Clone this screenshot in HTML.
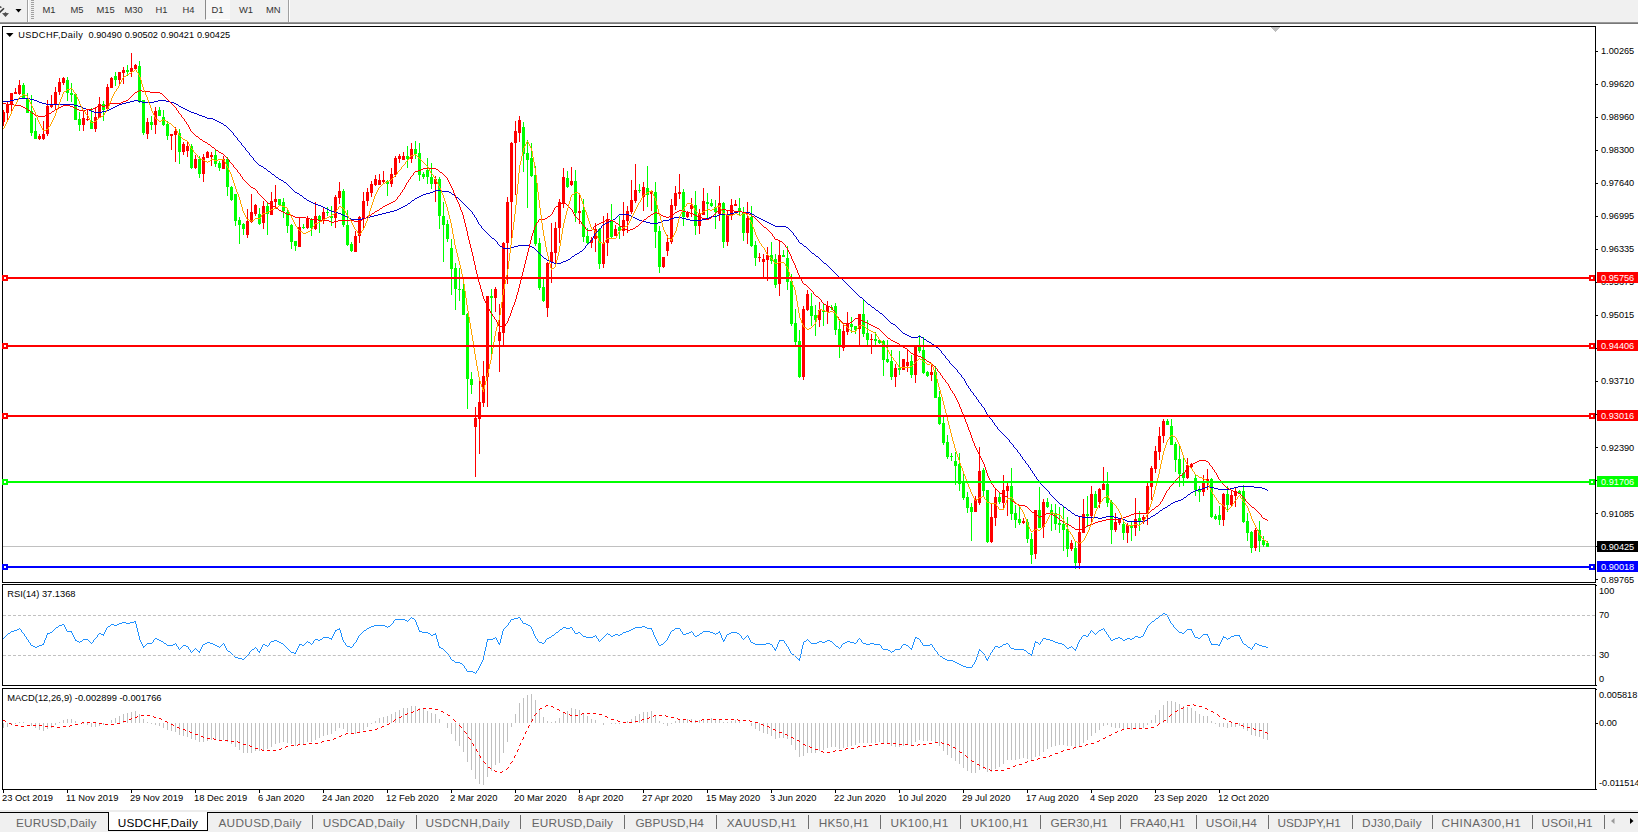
<!DOCTYPE html>
<html><head><meta charset="utf-8"><title>USDCHF,Daily</title>
<style>
*{margin:0;padding:0;box-sizing:border-box}
html,body{width:1638px;height:832px;overflow:hidden;background:#fff}
body{position:relative;font-family:"Liberation Sans",sans-serif;font-size:9px;color:#000}
i{position:absolute;display:block;font-style:normal}
span{position:absolute;white-space:nowrap;line-height:12px}
#tbar{position:absolute;left:0;top:0;width:1638px;height:22px;background:#f0f0f0}
#tline{position:absolute;left:0;top:22px;width:1638px;height:2px;background:linear-gradient(#a8a8a8,#686868)}
.tf{top:4.4px;color:#333;font-size:9.4px}
.box{position:absolute;border:1px solid #000}
.tb{top:814px;font-size:11.4px;line-height:14px}
.sp{top:815px;width:1px;height:14px;background:#6e6e6e}
.tk{top:790px;width:1px;height:3px;background:#000}
.dt{top:792.4px;font-size:9.4px}
.pt{left:1596px;width:2px;height:1px;background:#000}
.pl{left:1601px;font-size:9.2px}
.hl{left:3px;width:1592px;height:2px}
.sq{width:6px;height:6px;border:2px solid;background:#fff}
.pb{left:1597px;width:41px;height:11px;overflow:hidden;line-height:12px;color:#fff;padding-left:4px;font-size:9.2px}
</style></head><body>
<div id="tbar"></div><div id="tline"></div>
<svg style="position:absolute;left:0;top:0" width="30" height="22" viewBox="0 0 30 22"><path d="M-1 13.200L4 8.200" stroke="#3c3c3c" stroke-width="1.600" fill="none"/><path d="M0 6l2.200 1.300-2.200.600z" fill="#3c3c3c"/><path d="M2 13.300l2.500-.300 1-.900 1 .900 2.500.300-3.500 3.700z" fill="#505050"/><path d="M15.5 9h6l-3 3.5z" fill="#000"/><path d="M27.5 0v22" stroke="#a0a0a0"/><path d="M28.5 0v22" stroke="#fff"/></svg>
<i style="left:31px;top:0;width:3px;height:19px;background:repeating-linear-gradient(#a0a0a0 0 1px,#f0f0f0 1px 2px)"></i>
<i style="left:205px;top:0;width:25px;height:20px;background:#f7f7f7;border-left:1px solid #8a8a8a;border-bottom:1px solid #fff"></i>
<i style="left:288px;top:0;width:1px;height:22px;background:#a0a0a0"></i><i style="left:289px;top:0;width:1px;height:22px;background:#fff"></i>
<span class="tf" style="left:42.5px">M1</span><span class="tf" style="left:70.5px">M5</span><span class="tf" style="left:96.5px">M15</span><span class="tf" style="left:124.5px">M30</span><span class="tf" style="left:155.5px">H1</span><span class="tf" style="left:182.5px">H4</span><span class="tf" style="left:211.5px">D1</span><span class="tf" style="left:239px">W1</span><span class="tf" style="left:266px">MN</span>
<!-- chart frames -->
<div class="box" style="left:2px;top:26px;width:1594px;height:557px"></div>
<div class="box" style="left:2px;top:584px;width:1594px;height:102px"></div>
<div class="box" style="left:2px;top:688px;width:1594px;height:102px"></div>
<svg style="position:absolute;left:0;top:0" width="1638" height="832" viewBox="0 0 1638 832" shape-rendering="crispEdges">
<path d="M1271 27h9l-4.500 5.500z" fill="#bebebe"/>
<path d="M3 546.500H1595" stroke="#c0c0c0"/>
<path d="M23.5 83V99M27.5 93V113M31.5 95V136M35.5 118V139M67.5 77V101M71.5 83V102M75.5 94V120M79.5 112V131M91.5 108V129M103.5 101V121M115.5 72V86M127.5 65V76M139.5 61V103M143.5 100V135M151.5 116V130M159.5 107V116M163.5 110V126M167.5 121V140M179.5 129V164M191.5 144V169M199.5 156V178M215.5 150V167M219.5 161V171M227.5 157V196M231.5 186V201M235.5 194V226M239.5 217V244M243.5 223V235M259.5 208V225M267.5 203V235M279.5 199V205M283.5 198V218M287.5 210V233M291.5 224V249M295.5 241V251M303.5 224V229M311.5 218V236M319.5 215V233M327.5 207V216M331.5 206V226M343.5 189V227M347.5 210V246M351.5 242V252M387.5 180V196M407.5 146V168M415.5 141V159M419.5 143V181M423.5 172V179M427.5 158V184M431.5 163V189M439.5 177V229M443.5 202V262M447.5 220V242M451.5 239V295M455.5 263V310M459.5 268V301M463.5 283V315M467.5 313V409M471.5 372V394M491.5 289V355M523.5 122V172M527.5 140V208M531.5 143V177M535.5 166V246M539.5 238V290M543.5 279V302M567.5 171V188M575.5 170V222M583.5 199V242M587.5 228V244M599.5 228V269M611.5 204V239M619.5 216V239M639.5 184V193M647.5 166V207M655.5 182V248M659.5 226V273M683.5 189V226M695.5 191V235M707.5 193V218M711.5 199V207M715.5 200V229M723.5 202V248M739.5 198V216M743.5 207V241M751.5 206V247M755.5 241V266M771.5 242V264M775.5 254V288M783.5 250V257M787.5 246V290M791.5 274V326M795.5 309V345M799.5 330V378M811.5 293V326M815.5 305V336M823.5 304V326M831.5 305V310M835.5 303V335M839.5 320V358M851.5 317V333M855.5 326V334M863.5 300V337M867.5 320V345M875.5 332V345M879.5 339V344M883.5 340V376M887.5 340V363M891.5 350V380M899.5 351V375M911.5 355V378M919.5 335V353M923.5 337V374M927.5 371V377M935.5 366V398M939.5 391V425M943.5 417V445M947.5 435V459M951.5 453V461M955.5 452V485M959.5 453V491M963.5 474V500M967.5 492V513M971.5 503V541M983.5 468V496M987.5 490V543M999.5 493V504M1011.5 468V520M1015.5 505V528M1019.5 507V525M1027.5 519V543M1031.5 533V564M1039.5 487V528M1047.5 498V508M1051.5 504V531M1055.5 504V530M1059.5 507V533M1063.5 507V551M1067.5 517V557M1075.5 542V569M1087.5 496V527M1095.5 491V508M1107.5 472V507M1111.5 500V544M1123.5 522V540M1131.5 522V541M1139.5 511V531M1167.5 419V425M1171.5 419V445M1175.5 442V472M1179.5 446V487M1183.5 457V486M1195.5 475V496M1199.5 486V502M1211.5 478V518M1215.5 514V520M1219.5 506V525M1227.5 486V512M1239.5 490V494M1243.5 485V523M1247.5 513V541M1251.5 531V553M1259.5 521V552M1263.5 536V547M1267.5 541V547" stroke="#00ff00" stroke-width="1" fill="none"/><path d="M22 85h3v13h-3zM26 98h3v15h-3zM30 111h3v22h-3zM34 131h3v8h-3zM66 80h3v13h-3zM70 93h3v2h-3zM74 94h3v26h-3zM78 119h3v6h-3zM90 121h3v8h-3zM102 104h3v6h-3zM114 76h3v4h-3zM126 70h3v2h-3zM138 66h3v36h-3zM142 100h3v33h-3zM150 122h3v3h-3zM158 110h3v6h-3zM162 117h3v8h-3zM166 124h3v12h-3zM178 133h3v19h-3zM190 146h3v22h-3zM198 159h3v15h-3zM214 155h3v9h-3zM218 163h3v5h-3zM226 159h3v28h-3zM230 187h3v13h-3zM234 194h3v27h-3zM238 220h3v5h-3zM242 224h3v5h-3zM258 214h3v10h-3zM266 206h3v8h-3zM278 199h3v6h-3zM282 202h3v9h-3zM286 212h3v14h-3zM290 225h3v17h-3zM294 241h3v5h-3zM302 227h3v1h-3zM310 220h3v8h-3zM318 216h3v5h-3zM326 212h3v1h-3zM330 216h3v2h-3zM342 191h3v34h-3zM346 225h3v20h-3zM350 244h3v7h-3zM386 181h3v3h-3zM406 156h3v3h-3zM414 149h3v5h-3zM418 153h3v22h-3zM422 174h3v3h-3zM426 170h3v7h-3zM430 177h3v7h-3zM438 179h3v37h-3zM442 216h3v9h-3zM446 224h3v15h-3zM450 248h3v21h-3zM454 268h3v21h-3zM458 289h3v1h-3zM462 289h3v26h-3zM466 314h3v65h-3zM470 379h3v6h-3zM490 296h3v2h-3zM522 127h3v27h-3zM526 153h3v7h-3zM530 158h3v18h-3zM534 175h3v69h-3zM538 243h3v45h-3zM542 287h3v14h-3zM566 178h3v9h-3zM574 181h3v32h-3zM582 210h3v27h-3zM586 236h3v7h-3zM598 229h3v35h-3zM610 220h3v17h-3zM618 227h3v4h-3zM638 190h3v1h-3zM646 188h3v7h-3zM654 192h3v40h-3zM658 231h3v36h-3zM682 192h3v25h-3zM694 205h3v21h-3zM706 202h3v2h-3zM710 203h3v3h-3zM714 207h3v5h-3zM722 203h3v39h-3zM738 208h3v4h-3zM742 213h3v20h-3zM750 217h3v29h-3zM754 245h3v13h-3zM770 255h3v6h-3zM774 259h3v26h-3zM782 255h3v2h-3zM786 258h3v24h-3zM790 281h3v43h-3zM794 323h3v19h-3zM798 341h3v36h-3zM810 306h3v10h-3zM814 315h3v5h-3zM822 310h3v2h-3zM830 307h3v1h-3zM834 306h3v24h-3zM838 329h3v18h-3zM850 324h3v3h-3zM854 326h3v4h-3zM862 314h3v20h-3zM866 333h3v7h-3zM874 339h3v2h-3zM878 340h3v3h-3zM882 341h3v19h-3zM886 359h3v3h-3zM890 361h3v16h-3zM898 368h3v2h-3zM910 361h3v14h-3zM918 346h3v5h-3zM922 350h3v23h-3zM926 372h3v4h-3zM934 372h3v26h-3zM938 397h3v27h-3zM942 423h3v20h-3zM946 442h3v15h-3zM950 456h3v1h-3zM954 461h3v5h-3zM958 464h3v20h-3zM962 483h3v15h-3zM966 497h3v11h-3zM970 507h3v5h-3zM982 470h3v21h-3zM986 490h3v52h-3zM998 497h3v5h-3zM1010 486h3v28h-3zM1014 513h3v7h-3zM1018 519h3v4h-3zM1026 522h3v17h-3zM1030 539h3v16h-3zM1038 510h3v18h-3zM1046 502h3v5h-3zM1050 510h3v4h-3zM1054 513h3v11h-3zM1058 523h3v2h-3zM1062 524h3v6h-3zM1066 529h3v20h-3zM1074 548h3v15h-3zM1086 514h3v2h-3zM1094 494h3v14h-3zM1106 484h3v19h-3zM1110 502h3v28h-3zM1122 524h3v9h-3zM1130 526h3v2h-3zM1138 518h3v3h-3zM1166 421h3v4h-3zM1170 426h3v19h-3zM1174 444h3v16h-3zM1178 459h3v15h-3zM1182 473h3v5h-3zM1194 478h3v12h-3zM1198 489h3v3h-3zM1210 479h3v38h-3zM1214 516h3v3h-3zM1218 515h3v5h-3zM1226 494h3v11h-3zM1238 491h3v3h-3zM1242 491h3v31h-3zM1246 521h3v12h-3zM1250 532h3v16h-3zM1258 530h3v11h-3zM1262 540h3v5h-3zM1266 543h3v4h-3z" fill="#00ff00"/><path d="M3.5 110V126M7.5 102V121M11.5 93V111M15.5 88V94M19.5 80V95M39.5 134V140M43.5 121V140M47.5 100V136M51.5 95V108M55.5 87V110M59.5 78V95M63.5 77V85M83.5 111V131M87.5 110V121M95.5 107V132M99.5 97V118M107.5 84V109M111.5 77V88M119.5 72V84M123.5 67V84M131.5 53V77M135.5 64V70M147.5 118V139M155.5 107V134M171.5 134V150M175.5 127V162M183.5 142V155M187.5 142V157M195.5 155V169M203.5 154V182M207.5 151V158M211.5 152V166M223.5 156V169M247.5 209V238M251.5 194V223M255.5 204V216M263.5 201V229M271.5 192V215M275.5 185V208M299.5 217V247M307.5 216V229M315.5 202V230M323.5 208V224M335.5 195V228M339.5 182V204M355.5 231V252M359.5 216V243M363.5 192V228M367.5 188V206M371.5 181V197M375.5 175V186M379.5 174V185M383.5 171V183M391.5 168V187M395.5 156V177M399.5 154V163M403.5 152V160M411.5 143V163M435.5 176V202M475.5 407V477M479.5 381V454M483.5 361V407M487.5 296V407M495.5 287V312M499.5 304V372M503.5 242V345M507.5 197V284M511.5 142V238M515.5 121V195M519.5 116V142M547.5 262V317M551.5 223V283M555.5 222V264M559.5 199V243M563.5 168V208M571.5 167V186M579.5 195V224M591.5 237V248M595.5 223V252M603.5 216V268M607.5 213V256M615.5 225V236M623.5 202V236M627.5 206V233M631.5 180V214M635.5 164V203M643.5 182V211M651.5 190V211M663.5 257V268M667.5 235V256M671.5 199V244M675.5 186V210M679.5 174V199M687.5 211V218M691.5 198V217M699.5 209V234M703.5 188V215M719.5 186V221M727.5 210V246M731.5 199V220M735.5 200V206M747.5 202V244M759.5 253V262M763.5 254V278M767.5 247V281M779.5 241V296M803.5 306V380M807.5 290V311M819.5 302V327M827.5 301V324M843.5 324V351M847.5 312V335M859.5 314V346M871.5 334V354M895.5 364V387M903.5 359V370M907.5 349V372M915.5 346V383M931.5 364V381M975.5 496V512M979.5 447V505M991.5 504V543M995.5 489V526M1003.5 475V509M1007.5 483V516M1023.5 518V524M1035.5 510V559M1043.5 499V538M1071.5 540V551M1079.5 517V569M1083.5 499V533M1091.5 486V523M1099.5 488V508M1103.5 467V490M1115.5 513V532M1119.5 519V525M1127.5 523V543M1135.5 498V536M1143.5 515V524M1147.5 483V525M1151.5 466V500M1155.5 446V473M1159.5 427V460M1163.5 419V443M1187.5 458V479M1191.5 463V468M1203.5 475V496M1207.5 469V490M1223.5 493V526M1231.5 490V506M1235.5 488V507M1255.5 528V551" stroke="#ff0000" stroke-width="1" fill="none"/><path d="M2 112h3v10h-3zM6 104h3v9h-3zM10 93h3v11h-3zM14 92h3v2h-3zM18 85h3v9h-3zM38 136h3v3h-3zM42 134h3v5h-3zM46 106h3v28h-3zM50 104h3v3h-3zM54 92h3v13h-3zM58 82h3v10h-3zM62 78h3v5h-3zM82 118h3v7h-3zM86 119h3v1h-3zM94 117h3v12h-3zM98 104h3v14h-3zM106 87h3v22h-3zM110 78h3v10h-3zM118 72h3v8h-3zM122 70h3v3h-3zM130 68h3v4h-3zM134 65h3v4h-3zM146 122h3v12h-3zM154 111h3v14h-3zM170 134h3v2h-3zM174 131h3v4h-3zM182 144h3v8h-3zM186 146h3v5h-3zM194 159h3v9h-3zM202 157h3v17h-3zM206 152h3v6h-3zM210 155h3v2h-3zM222 159h3v10h-3zM246 221h3v14h-3zM250 212h3v10h-3zM254 205h3v9h-3zM262 206h3v17h-3zM270 201h3v14h-3zM274 199h3v3h-3zM298 227h3v20h-3zM306 218h3v10h-3zM314 216h3v13h-3zM322 212h3v9h-3zM334 197h3v21h-3zM338 191h3v7h-3zM354 236h3v16h-3zM358 217h3v19h-3zM362 201h3v17h-3zM366 192h3v9h-3zM370 184h3v9h-3zM374 179h3v6h-3zM378 180h3v5h-3zM382 180h3v2h-3zM390 174h3v10h-3zM394 158h3v17h-3zM398 156h3v3h-3zM402 156h3v4h-3zM410 149h3v10h-3zM434 179h3v5h-3zM474 418h3v9h-3zM478 402h3v17h-3zM482 376h3v27h-3zM486 296h3v81h-3zM494 289h3v9h-3zM498 332h3v9h-3zM502 243h3v90h-3zM506 202h3v41h-3zM510 143h3v59h-3zM514 131h3v12h-3zM518 120h3v13h-3zM546 263h3v45h-3zM550 252h3v10h-3zM554 228h3v25h-3zM558 202h3v26h-3zM562 177h3v26h-3zM570 181h3v4h-3zM578 211h3v2h-3zM590 240h3v3h-3zM594 229h3v10h-3zM602 243h3v21h-3zM606 219h3v24h-3zM614 229h3v7h-3zM622 220h3v11h-3zM626 211h3v10h-3zM630 200h3v12h-3zM634 190h3v11h-3zM642 187h3v10h-3zM650 191h3v3h-3zM662 257h3v10h-3zM666 242h3v9h-3zM670 205h3v37h-3zM674 193h3v13h-3zM678 192h3v2h-3zM686 212h3v5h-3zM690 205h3v4h-3zM698 214h3v12h-3zM702 201h3v14h-3zM718 203h3v11h-3zM726 214h3v28h-3zM730 205h3v10h-3zM734 204h3v2h-3zM746 218h3v15h-3zM758 257h3v1h-3zM762 259h3v3h-3zM766 255h3v5h-3zM778 255h3v29h-3zM802 309h3v68h-3zM806 294h3v16h-3zM818 310h3v10h-3zM826 306h3v6h-3zM842 331h3v17h-3zM846 323h3v9h-3zM858 314h3v15h-3zM870 339h3v1h-3zM894 368h3v9h-3zM902 359h3v11h-3zM906 362h3v4h-3zM914 346h3v29h-3zM930 372h3v3h-3zM974 499h3v13h-3zM978 471h3v32h-3zM990 517h3v25h-3zM994 497h3v21h-3zM1002 490h3v13h-3zM1006 486h3v5h-3zM1022 521h3v2h-3zM1034 510h3v44h-3zM1042 502h3v25h-3zM1070 543h3v6h-3zM1078 532h3v31h-3zM1082 514h3v19h-3zM1090 494h3v22h-3zM1098 489h3v13h-3zM1102 484h3v6h-3zM1114 522h3v8h-3zM1118 520h3v3h-3zM1126 525h3v8h-3zM1134 519h3v9h-3zM1142 517h3v3h-3zM1146 486h3v28h-3zM1150 468h3v19h-3zM1154 451h3v18h-3zM1158 436h3v16h-3zM1162 421h3v15h-3zM1186 465h3v13h-3zM1190 464h3v3h-3zM1202 482h3v10h-3zM1206 479h3v3h-3zM1222 494h3v26h-3zM1230 495h3v10h-3zM1234 491h3v5h-3zM1254 530h3v18h-3z" fill="#ff0000"/>
</svg>
<svg style="position:absolute;left:0;top:0" width="1638" height="832" viewBox="0 0 1638 832">
<g shape-rendering="crispEdges">
<path d="M233.5 133v2M237.5 138v2M241.5 143v2M245.5 148v2M249.5 153v2M253.5 158v2M472.5 212v2M474.5 215v2M476.5 218v2M477.5 220v2M478.5 222v2M481.5 226v2M497.5 242v2M585.5 246v2M592.5 238v2M593.5 236v2M594.5 234v2M601.5 226v2M793.5 233v2M796.5 237v2M798.5 240v2M941.5 351v2M945.5 356v2M949.5 361v2M957.5 370v2M961.5 375v2M964.5 379v2M965.5 381v2M966.5 383v2M968.5 386v2M970.5 389v2M973.5 393v2M976.5 397v2M978.5 400v2M981.5 404v2M984.5 408v2M985.5 410v2M986.5 412v2M989.5 416v2M992.5 420v2M994.5 423v2M997.5 427v2M1009.5 440v2M1013.5 445v2M1017.5 450v2M1020.5 454v2M1022.5 457v2M1025.5 461v2M1028.5 465v2M1030.5 468v2M1032.5 471v2M1034.5 474v2M1036.5 477v2M1038.5 480v2M1049.5 492v2M843 280.5h1M1043 486.5h1M1207 486.5h3M1238 486.5h16M832 270.5h1M775 226.5h11M46 104.5h28M119 104.5h3M176 104.5h2M235 136.5h1M1078 516.5h4M1106 516.5h8M1151 516.5h2M605 223.5h2M650 223.5h8M769 223.5h2M554 263.5h7M824 263.5h2M279 179.5h2M295 192.5h2M430 192.5h3M449 192.5h2M349 218.5h2M362 218.5h4M615 218.5h1M635 218.5h2M671 218.5h3M682 218.5h4M706 218.5h3M759 218.5h2M499 245.5h1M518 245.5h12M586 245.5h1M803 245.5h1M345 216.5h2M370 216.5h4M617 216.5h1M631 216.5h2M711 216.5h6M755 216.5h2M10 100.5h4M34 100.5h3M134 100.5h4M158 100.5h8M1082 517.5h16M1102 517.5h4M1114 517.5h4M1150 517.5h1M1057 501.5h1M1175 501.5h3M261 166.5h2M1048 491.5h1M1193 491.5h2M202 116.5h3M1016 449.5h1M1127 521.5h18M351 219.5h11M613 219.5h2M637 219.5h2M669 219.5h2M686 219.5h4M702 219.5h4M761 219.5h2M325 208.5h2M399 208.5h2M468 208.5h1M1031 470.5h1M546 259.5h1M568 259.5h2M820 259.5h1M338 213.5h3M382 213.5h4M730 213.5h4M750 213.5h2M94 112.5h8M191 112.5h3M294 191.5h1M433 191.5h2M442 191.5h7M549 261.5h2M563 261.5h3M822 261.5h1M838 276.5h1M1070 511.5h1M1159 511.5h1M327 209.5h2M397 209.5h2M469 209.5h1M909 336.5h2M918 336.5h3M609 221.5h2M642 221.5h4M661 221.5h2M765 221.5h2M868 304.5h2M839 277.5h1M311 202.5h2M410 202.5h1M462 202.5h1M341 214.5h2M378 214.5h4M473 214.5h1M619 214.5h10M719 214.5h11M752 214.5h2M313 203.5h2M408 203.5h2M463 203.5h1M275 176.5h1M256 162.5h1M276 177.5h2M1001 432.5h1M257 163.5h1M89 110.5h2M106 110.5h3M187 110.5h2M347 217.5h2M366 217.5h4M475 217.5h1M616 217.5h1M633 217.5h2M674 217.5h8M709 217.5h2M757 217.5h2M299 194.5h1M423 194.5h3M452 194.5h2M1051 495.5h1M1187 495.5h1M950 363.5h1M1046 489.5h1M1198 489.5h4M1218 489.5h12M1265 489.5h2M1052 496.5h1M1186 496.5h1M484 230.5h1M598 230.5h1M790 230.5h1M893 324.5h2M500 246.5h2M514 246.5h4M530 246.5h2M804 246.5h2M845 282.5h1M300 195.5h2M421 195.5h2M454 195.5h1M238 140.5h1M270 172.5h1M538 252.5h1M579 252.5h1M811 252.5h1M271 173.5h1M39 102.5h3M126 102.5h4M142 102.5h12M170 102.5h4M487 233.5h1M595 233.5h1M1018 452.5h1M334 212.5h4M386 212.5h4M734 212.5h4M742 212.5h8M1019 453.5h1M1064 507.5h2M1165 507.5h2M495 240.5h1M591 240.5h1M42 103.5h4M122 103.5h4M174 103.5h2M956 369.5h1M911 337.5h7M921 337.5h2M331 211.5h3M390 211.5h4M471 211.5h1M738 211.5h4M502 247.5h1M510 247.5h4M532 247.5h2M806 247.5h1M1125 520.5h2M1145 520.5h2M1075 515.5h3M1153 515.5h2M485 231.5h1M597 231.5h1M791 231.5h1M503 248.5h7M534 248.5h1M584 248.5h1M807 248.5h1M1053 497.5h1M1184 497.5h2M588 243.5h1M800 243.5h2M852 289.5h1M74 105.5h4M117 105.5h2M178 105.5h1M535 249.5h1M583 249.5h1M808 249.5h1M1045 488.5h1M1202 488.5h3M1214 488.5h4M1230 488.5h4M1262 488.5h3M480 225.5h1M602 225.5h1M773 225.5h2M266 169.5h1M284 182.5h2M551 262.5h3M561 262.5h2M823 262.5h1M544 258.5h2M570 258.5h1M819 258.5h1M483 229.5h1M599 229.5h1M789 229.5h1M199 115.5h3M611 220.5h2M639 220.5h3M663 220.5h6M690 220.5h12M763 220.5h2M329 210.5h2M394 210.5h3M470 210.5h1M83 108.5h3M111 108.5h2M183 108.5h2M3 101.5h7M37 101.5h2M130 101.5h4M138 101.5h4M154 101.5h4M166 101.5h4M948 360.5h1M884 316.5h1M293 190.5h1M435 190.5h7M895 325.5h1M1054 498.5h1M1183 498.5h1M896 326.5h1M907 335.5h2M78 106.5h3M115 106.5h2M179 106.5h2M239 141.5h1M291 188.5h1M309 201.5h2M411 201.5h1M461 201.5h1M297 193.5h2M426 193.5h4M451 193.5h1M991 419.5h1M240 142.5h1M540 254.5h1M575 254.5h2M814 254.5h1M292 189.5h1M1098 518.5h4M1118 518.5h4M1148 518.5h2M541 255.5h1M574 255.5h1M815 255.5h1M995 425.5h1M304 198.5h2M415 198.5h2M458 198.5h1M902 332.5h1M18 98.5h12M880 313.5h2M321 206.5h2M403 206.5h2M466 206.5h1M1072 513.5h2M1156 513.5h2M854 291.5h1M217 121.5h2M323 207.5h2M401 207.5h2M467 207.5h1M268 171.5h2M302 196.5h1M419 196.5h2M455 196.5h1M343 215.5h2M374 215.5h4M618 215.5h1M629 215.5h2M717 215.5h2M754 215.5h1M86 109.5h3M109 109.5h2M185 109.5h2M479 224.5h1M603 224.5h2M771 224.5h2M1071 512.5h1M1158 512.5h1M835 273.5h1M886 318.5h1M494 239.5h1M797 239.5h1M887 319.5h1M979 402.5h1M242 145.5h1M264 168.5h2M998 429.5h1M197 114.5h2M91 111.5h3M102 111.5h4M189 111.5h2M81 107.5h2M113 107.5h2M181 107.5h2M840 278.5h2M842 279.5h1M1055 499.5h1M1181 499.5h2M315 204.5h3M407 204.5h1M464 204.5h1M307 200.5h2M412 200.5h2M460 200.5h1M537 251.5h1M580 251.5h2M810 251.5h1M259 165.5h2M278 178.5h1M1044 487.5h1M1205 487.5h2M1210 487.5h4M1234 487.5h4M1254 487.5h8M952 365.5h1M923 338.5h1M303 197.5h1M417 197.5h2M456 197.5h2M498 244.5h1M587 244.5h1M802 244.5h1M607 222.5h2M646 222.5h4M658 222.5h3M767 222.5h2M848 285.5h1M318 205.5h3M405 205.5h2M465 205.5h1M967 385.5h1M837 275.5h1M536 250.5h1M582 250.5h1M809 250.5h1M243 146.5h1M221 123.5h2M272 174.5h2M244 147.5h1M999 430.5h1M1047 490.5h1M1195 490.5h3M1267 490.5h1M936 347.5h2M1191 492.5h2M1060 504.5h2M1170 504.5h1M1050 494.5h1M1188 494.5h2M547 260.5h2M566 260.5h2M821 260.5h1M1006 437.5h1M194 113.5h3M954 367.5h1M955 368.5h1M898 328.5h1M969 388.5h1M1068 510.5h2M1160 510.5h2M850 287.5h1M1074 514.5h1M1155 514.5h1M851 288.5h1M983 407.5h1M283 181.5h1M543 257.5h1M571 257.5h1M818 257.5h1M246 150.5h1M542 256.5h1M572 256.5h2M816 256.5h2M946 358.5h1M1063 506.5h1M1167 506.5h1M905 334.5h2M482 228.5h1M600 228.5h1M788 228.5h1M290 187.5h1M1008 439.5h1M1033 473.5h1M1037 479.5h1M900 330.5h1M1059 503.5h1M1171 503.5h2M486 232.5h1M596 232.5h1M792 232.5h1M901 331.5h1M539 253.5h1M577 253.5h2M812 253.5h2M248 152.5h1M1058 502.5h1M1173 502.5h2M844 281.5h1M492 238.5h2M859 296.5h1M229 129.5h1M1021 456.5h1M1035 476.5h1M926 340.5h1M1039 482.5h1M959 373.5h1M891 323.5h2M224 125.5h2M903 333.5h2M306 199.5h1M414 199.5h1M459 199.5h1M250 155.5h1M1002 433.5h1M251 156.5h1M940 350.5h1M951 364.5h1M1066 508.5h1M1163 508.5h2M846 283.5h1M219 122.5h2M213 119.5h2M14 99.5h4M30 99.5h4M1023 459.5h1M935 346.5h1M1067 509.5h1M1162 509.5h1M1122 519.5h3M1147 519.5h1M1004 435.5h1M1005 436.5h1M929 342.5h2M931 343.5h1M953 366.5h1M849 286.5h1M234 135.5h1M996 426.5h1M963 378.5h1M488 234.5h1M489 235.5h1M794 235.5h1M855 292.5h1M1062 505.5h1M1168 505.5h2M856 293.5h1M226 126.5h1M255 161.5h1M944 355.5h1M589 242.5h1M799 242.5h1M862 298.5h1M987 414.5h1M236 137.5h1M988 415.5h1M1027 464.5h1M927 341.5h2M490 236.5h1M795 236.5h1M491 237.5h1M857 294.5h1M227 127.5h1M858 295.5h1M228 128.5h1M205 117.5h2M971 391.5h1M972 392.5h1M223 124.5h1M215 120.5h2M990 418.5h1M1000 431.5h1M938 348.5h1M939 349.5h1M826 264.5h1M786 227.5h2M827 265.5h1M207 118.5h6M1007 438.5h1M932 344.5h2M934 345.5h1M872 307.5h2M885 317.5h1M247 151.5h1M1003 434.5h1M828 266.5h1M829 267.5h1M1190 493.5h1M1024 460.5h1M864 300.5h1M962 377.5h1M975 396.5h1M853 290.5h1M865 301.5h1M876 310.5h2M942 353.5h1M943 354.5h1M860 297.5h2M230 130.5h1M871 306.5h1M1011 443.5h1M1026 463.5h1M960 374.5h1M1040 483.5h1M866 302.5h1M867 303.5h1M982 406.5h1M274 175.5h1M232 132.5h1M1056 500.5h1M1178 500.5h3M288 185.5h1M1042 485.5h1M924 339.5h2M947 359.5h1M831 269.5h1M883 315.5h1M878 311.5h1M890 322.5h1M879 312.5h1M496 241.5h1M590 241.5h1M833 271.5h1M863 299.5h1M834 272.5h1M874 308.5h1M974 395.5h1M875 309.5h1M281 180.5h2M993 422.5h1M870 305.5h1M258 164.5h1M1010 442.5h1M958 372.5h1M847 284.5h1M836 274.5h1M977 399.5h1M231 131.5h1M267 170.5h1M286 183.5h1M287 184.5h1M1012 444.5h1M1041 484.5h1M897 327.5h1M263 167.5h1M252 157.5h1M830 268.5h1M882 314.5h1M289 186.5h1M1014 447.5h1M1015 448.5h1M1029 467.5h1M888 320.5h1M899 329.5h1M980 403.5h1M889 321.5h1M254 160.5h1" stroke="#0000cd" stroke-width="1" fill="none"/>
<path d="M176.5 108v2M178.5 111v2M181.5 115v2M184.5 119v2M186.5 122v2M188.5 125v2M189.5 127v2M190.5 129v2M229.5 160v2M233.5 165v2M237.5 170v2M240.5 174v2M242.5 177v2M257.5 191v2M397.5 197v2M400.5 193v2M402.5 190v2M404.5 187v2M405.5 185v2M406.5 183v2M408.5 180v2M410.5 177v2M413.5 173v2M447.5 178v2M448.5 180v2M449.5 182v2M450.5 184v2M451.5 186v2M452.5 188v2M453.5 190v3M454.5 193v2M455.5 195v3M456.5 198v2M457.5 200v2M458.5 202v2M459.5 204v3M460.5 207v3M461.5 210v2M462.5 212v3M463.5 215v4M464.5 219v4M465.5 223v4M466.5 227v4M467.5 231v5M468.5 236v4M469.5 240v4M470.5 244v4M471.5 248v4M472.5 252v4M473.5 256v5M474.5 261v4M475.5 265v5M476.5 270v4M477.5 274v4M478.5 278v4M479.5 282v3M480.5 285v4M481.5 289v3M482.5 292v4M483.5 296v3M484.5 299v2M485.5 301v2M486.5 303v2M487.5 305v2M488.5 307v2M489.5 309v2M490.5 311v2M492.5 314v2M494.5 317v2M496.5 320v2M497.5 322v2M498.5 324v2M505.5 324v2M507.5 321v2M508.5 318v3M509.5 316v2M510.5 313v3M511.5 310v3M512.5 307v3M513.5 305v2M514.5 302v3M515.5 299v3M516.5 295v4M517.5 292v3M518.5 288v4M519.5 284v4M520.5 280v4M521.5 276v4M522.5 272v4M523.5 268v4M524.5 264v4M525.5 260v4M526.5 256v4M527.5 252v4M528.5 248v4M529.5 244v4M530.5 240v4M531.5 236v4M532.5 233v3M533.5 230v3M534.5 227v3M535.5 225v2M536.5 223v2M538.5 220v2M552.5 212v2M553.5 210v2M554.5 208v2M572.5 210v2M573.5 212v2M574.5 214v2M581.5 222v2M585.5 227v2M593.5 227v2M772.5 234v2M774.5 237v2M785.5 245v2M787.5 248v2M788.5 250v2M789.5 252v2M790.5 254v2M791.5 256v3M792.5 259v2M793.5 261v2M794.5 263v2M795.5 265v3M796.5 268v2M797.5 270v3M798.5 273v2M799.5 275v2M800.5 277v2M801.5 279v2M802.5 281v2M813.5 292v2M821.5 300v2M832.5 308v2M834.5 311v2M836.5 314v2M838.5 317v2M937.5 369v2M940.5 373v2M942.5 376v2M945.5 380v2M948.5 384v2M949.5 386v2M950.5 388v2M952.5 391v2M954.5 394v2M955.5 396v2M956.5 398v2M957.5 400v2M958.5 402v2M959.5 404v3M960.5 407v2M961.5 409v3M962.5 412v2M963.5 414v3M964.5 417v2M965.5 419v3M966.5 422v2M967.5 424v3M968.5 427v3M969.5 430v2M970.5 432v3M971.5 435v3M972.5 438v3M973.5 441v2M974.5 443v3M975.5 446v2M976.5 448v2M977.5 450v2M978.5 452v2M979.5 454v2M980.5 456v2M981.5 458v2M982.5 460v2M983.5 462v2M984.5 464v3M985.5 467v3M986.5 470v3M987.5 473v3M988.5 476v2M989.5 478v2M990.5 480v2M991.5 482v2M993.5 485v2M1160.5 502v2M1162.5 499v2M1163.5 497v2M1164.5 495v2M1165.5 493v2M1166.5 491v2M1169.5 487v2M1173.5 482v2M1185.5 470v2M1209.5 463v2M1212.5 467v2M1214.5 470v2M1216.5 473v2M1217.5 475v2M1218.5 477v2M1221.5 481v2M1245.5 499v2M1261.5 515v2M506 323.5h1M843 323.5h7M867 323.5h2M278 209.5h1M379 209.5h1M571 209.5h1M719 209.5h7M582 224.5h1M597 224.5h2M618 224.5h1M639 224.5h1M761 224.5h1M1059 519.5h1M1106 519.5h15M1265 519.5h2M499 326.5h3M504 326.5h1M873 326.5h2M1034 513.5h1M1046 513.5h4M1134 513.5h14M1259 513.5h1M266 201.5h1M393 201.5h2M264 199.5h1M396 199.5h1M318 220.5h11M338 220.5h16M358 220.5h4M579 220.5h1M605 220.5h2M610 220.5h3M643 220.5h1M757 220.5h1M310 219.5h8M362 219.5h2M539 219.5h6M578 219.5h1M607 219.5h3M644 219.5h2M706 219.5h3M756 219.5h1M1060 520.5h2M1102 520.5h4M1267 520.5h1M235 168.5h1M423 168.5h13M1199 460.5h7M953 393.5h1M1186 469.5h1M1213 469.5h1M14 105.5h7M63 105.5h7M99 105.5h3M105 105.5h2M173 105.5h1M306 218.5h4M364 218.5h2M545 218.5h2M577 218.5h1M646 218.5h1M702 218.5h4M709 218.5h2M755 218.5h1M25 108.5h2M57 108.5h2M75 108.5h2M93 108.5h2M290 215.5h3M369 215.5h2M550 215.5h1M650 215.5h1M661 215.5h2M671 215.5h1M695 215.5h2M713 215.5h1M751 215.5h1M293 216.5h2M367 216.5h2M548 216.5h2M575 216.5h1M648 216.5h2M663 216.5h3M669 216.5h2M697 216.5h2M712 216.5h1M752 216.5h2M1032 512.5h2M1148 512.5h2M1258 512.5h1M283 212.5h2M374 212.5h1M655 212.5h2M675 212.5h2M686 212.5h4M716 212.5h1M742 212.5h4M135 92.5h2M150 92.5h10M1014 502.5h1M1247 502.5h1M279 210.5h2M377 210.5h2M679 210.5h3M718 210.5h1M726 210.5h8M1171 485.5h1M1224 485.5h1M329 221.5h2M334 221.5h4M354 221.5h4M580 221.5h1M603 221.5h2M613 221.5h2M642 221.5h1M758 221.5h1M1015 503.5h2M1248 503.5h1M493 316.5h1M837 316.5h1M996 489.5h1M1168 489.5h1M1229 489.5h2M502 327.5h2M875 327.5h2M34 114.5h1M47 114.5h2M180 114.5h1M586 229.5h1M592 229.5h1M625 229.5h2M630 229.5h3M767 229.5h1M23 107.5h2M59 107.5h2M73 107.5h2M95 107.5h2M175 107.5h1M587 230.5h5M627 230.5h3M768 230.5h1M27 109.5h1M55 109.5h2M77 109.5h2M86 109.5h7M3 103.5h3M110 103.5h11M171 103.5h1M1058 518.5h1M1121 518.5h2M1263 518.5h2M275 207.5h1M382 207.5h1M555 207.5h1M569 207.5h1M1174 481.5h1M21 106.5h2M61 106.5h2M70 106.5h3M97 106.5h2M102 106.5h3M174 106.5h1M123 101.5h3M169 101.5h1M1010 499.5h1M192 132.5h1M203 141.5h2M137 91.5h2M142 91.5h8M28 110.5h2M54 110.5h1M79 110.5h7M177 110.5h1M929 362.5h2M1003 495.5h2M1241 495.5h1M287 214.5h3M371 214.5h1M551 214.5h1M651 214.5h2M659 214.5h2M672 214.5h2M693 214.5h2M714 214.5h1M749 214.5h2M584 226.5h1M594 226.5h1M620 226.5h2M636 226.5h2M763 226.5h1M270 204.5h1M387 204.5h2M559 204.5h2M566 204.5h1M1184 472.5h1M1215 472.5h1M1012 501.5h2M1161 501.5h1M1246 501.5h1M273 206.5h2M383 206.5h2M556 206.5h2M568 206.5h1M1035 514.5h1M1043 514.5h3M1050 514.5h3M1131 514.5h3M1260 514.5h1M1038 516.5h1M1040 516.5h2M1055 516.5h1M1126 516.5h3M1065 523.5h2M1093 523.5h2M198 137.5h1M1188 467.5h1M415 171.5h3M439 171.5h1M199 138.5h1M218 151.5h1M285 213.5h2M372 213.5h2M653 213.5h2M657 213.5h2M674 213.5h1M690 213.5h3M715 213.5h1M746 213.5h3M770 232.5h1M268 203.5h2M389 203.5h2M561 203.5h2M564 203.5h2M1036 515.5h2M1042 515.5h1M1053 515.5h2M1129 515.5h2M1063 522.5h2M1095 522.5h3M281 211.5h2M375 211.5h2M677 211.5h2M682 211.5h4M717 211.5h1M734 211.5h8M1067 524.5h2M1090 524.5h3M194 134.5h1M195 135.5h1M38 116.5h7M31 112.5h1M51 112.5h1M32 113.5h2M49 113.5h2M179 113.5h1M1197 461.5h2M1206 461.5h2M1039 517.5h1M1056 517.5h2M1123 517.5h3M1262 517.5h1M819 298.5h1M208 144.5h2M295 217.5h11M366 217.5h1M547 217.5h1M576 217.5h1M647 217.5h1M666 217.5h3M699 217.5h3M711 217.5h1M754 217.5h1M1074 528.5h1M1082 528.5h2M238 172.5h1M414 172.5h1M440 172.5h2M841 321.5h1M852 321.5h1M863 321.5h2M271 205.5h2M385 205.5h2M558 205.5h1M567 205.5h1M842 322.5h1M850 322.5h2M865 322.5h2M927 361.5h2M1062 521.5h1M1098 521.5h4M1028 508.5h1M1154 508.5h1M1254 508.5h1M1175 480.5h1M1220 480.5h1M134 93.5h1M160 93.5h2M126 100.5h2M168 100.5h1M1190 465.5h1M1210 465.5h1M182 117.5h1M221 153.5h2M1170 486.5h1M1225 486.5h1M223 154.5h1M331 222.5h3M537 222.5h1M601 222.5h2M615 222.5h1M641 222.5h1M759 222.5h1M923 358.5h1M1182 474.5h1M133 94.5h1M162 94.5h1M946 382.5h1M6 104.5h8M107 104.5h3M172 104.5h1M1017 504.5h2M1159 504.5h1M1249 504.5h1M35 115.5h3M45 115.5h2M833 310.5h1M243 179.5h1M409 179.5h1M244 180.5h1M780 241.5h2M903 347.5h2M827 306.5h3M250 186.5h1M251 187.5h2M583 225.5h1M595 225.5h2M619 225.5h1M638 225.5h1M762 225.5h1M267 202.5h1M391 202.5h2M563 202.5h1M623 228.5h2M633 228.5h2M766 228.5h1M881 331.5h1M830 307.5h2M202 140.5h1M1075 529.5h7M921 357.5h2M783 243.5h1M784 244.5h1M869 324.5h2M236 169.5h1M421 169.5h2M436 169.5h2M840 320.5h1M853 320.5h1M861 320.5h2M216 150.5h2M1029 509.5h1M1152 509.5h2M1255 509.5h1M196 136.5h2M935 367.5h1M1183 473.5h1M778 240.5h2M883 333.5h1M211 146.5h1M255 189.5h1M403 189.5h1M811 290.5h1M212 147.5h2M193 133.5h1M1180 475.5h2M132 95.5h1M163 95.5h1M897 343.5h2M1176 479.5h1M1219 479.5h1M225 156.5h1M1193 463.5h2M226 157.5h1M818 297.5h1M207 143.5h1M926 360.5h1M918 356.5h3M911 353.5h2M622 227.5h1M635 227.5h1M764 227.5h2M1195 462.5h2M1208 462.5h1M246 182.5h1M407 182.5h1M260 195.5h1M399 195.5h1M247 183.5h1M775 239.5h3M907 349.5h1M998 491.5h1M1233 491.5h2M227 158.5h1M228 159.5h1M820 299.5h1M253 188.5h2M902 346.5h1M999 492.5h1M1235 492.5h3M1019 505.5h6M1158 505.5h1M1250 505.5h1M826 305.5h1M1030 510.5h1M1151 510.5h1M1256 510.5h1M815 295.5h1M248 184.5h1M931 363.5h1M816 296.5h2M997 490.5h1M1167 490.5h1M1231 490.5h2M1187 468.5h1M249 185.5h1M924 359.5h2M915 355.5h3M877 328.5h2M890 339.5h1M879 329.5h1M871 325.5h2M1069 525.5h2M1087 525.5h3M230 162.5h1M200 139.5h2M822 302.5h1M219 152.5h2M992 484.5h1M1172 484.5h1M1223 484.5h1M823 303.5h1M885 335.5h1M771 233.5h1M782 242.5h1M495 319.5h1M839 319.5h1M854 319.5h1M858 319.5h3M214 148.5h1M185 121.5h1M491 313.5h1M835 313.5h1M139 90.5h3M933 365.5h1M262 197.5h1M934 366.5h1M899 344.5h1M900 345.5h2M130 97.5h1M165 97.5h1M1027 507.5h1M1155 507.5h1M1252 507.5h2M994 487.5h1M1226 487.5h1M129 98.5h1M166 98.5h1M232 164.5h1M261 196.5h1M398 196.5h1M824 304.5h2M599 223.5h2M616 223.5h2M640 223.5h1M760 223.5h1M1072 527.5h2M1084 527.5h2M773 236.5h1M895 342.5h2M888 338.5h2M183 118.5h1M187 124.5h1M909 351.5h1M910 352.5h1M1179 476.5h1M1007 497.5h1M1243 497.5h1M276 208.5h2M380 208.5h2M570 208.5h1M1025 506.5h2M1156 506.5h2M1251 506.5h1M234 167.5h1M804 284.5h2M245 181.5h1M256 190.5h1M239 173.5h1M442 173.5h1M443 174.5h1M905 348.5h2M786 247.5h1M1000 493.5h2M1238 493.5h2M938 371.5h1M418 170.5h3M438 170.5h1M891 340.5h2M893 341.5h2M30 111.5h1M52 111.5h2M1005 496.5h2M1242 496.5h1M807 286.5h1M258 193.5h1M259 194.5h1M913 354.5h2M241 176.5h1M411 176.5h1M445 176.5h1M1222 483.5h1M936 368.5h1M884 334.5h1M131 96.5h1M164 96.5h1M1008 498.5h2M1244 498.5h1M932 364.5h1M1002 494.5h1M1240 494.5h1M412 175.5h1M444 175.5h1M231 163.5h1M1071 526.5h1M1086 526.5h1M886 336.5h1M121 102.5h2M170 102.5h1M908 350.5h1M995 488.5h1M1227 488.5h2M1031 511.5h1M1150 511.5h1M1257 511.5h1M265 200.5h1M395 200.5h1M944 379.5h1M1177 478.5h1M809 288.5h1M810 289.5h1M191 131.5h1M880 330.5h1M951 390.5h1M1189 466.5h1M1211 466.5h1M855 318.5h3M1191 464.5h2M812 291.5h1M263 198.5h1M882 332.5h1M128 99.5h1M167 99.5h1M814 294.5h1M941 375.5h1M806 285.5h1M769 231.5h1M1011 500.5h1M939 372.5h1M943 378.5h1M808 287.5h1M446 177.5h1M1178 477.5h1M803 283.5h1M215 149.5h1M210 145.5h1M205 142.5h2M224 155.5h1M947 383.5h1M887 337.5h1M401 192.5h1" stroke="#ff0000" stroke-width="1" fill="none"/>
<path d="M4.5 126v2M5.5 124v2M6.5 122v2M7.5 120v2M8.5 118v2M9.5 116v2M10.5 114v2M11.5 111v3M12.5 109v2M13.5 107v2M14.5 105v2M16.5 102v2M17.5 100v2M18.5 98v2M27.5 96v2M28.5 98v2M29.5 100v2M30.5 102v2M31.5 104v2M32.5 106v2M33.5 108v2M34.5 110v2M35.5 112v3M36.5 115v2M37.5 117v3M38.5 120v2M39.5 122v2M40.5 124v2M41.5 126v2M42.5 128v2M48.5 127v2M50.5 124v2M51.5 122v2M52.5 120v2M53.5 118v2M54.5 116v2M55.5 113v3M56.5 110v3M57.5 108v2M58.5 105v3M59.5 102v3M60.5 99v3M61.5 97v2M62.5 94v3M63.5 92v2M73.5 90v2M75.5 93v2M76.5 95v2M77.5 97v2M78.5 99v2M79.5 101v3M80.5 104v2M81.5 106v2M82.5 108v2M85.5 112v2M88.5 116v2M89.5 118v2M90.5 120v2M104.5 113v2M106.5 110v2M107.5 108v2M108.5 106v2M109.5 103v3M110.5 101v2M111.5 98v3M112.5 96v2M113.5 94v2M114.5 92v2M116.5 89v2M118.5 86v2M119.5 84v2M120.5 82v2M121.5 80v2M122.5 78v2M136.5 70v2M138.5 73v2M139.5 75v2M140.5 77v3M141.5 80v4M142.5 84v3M143.5 87v3M144.5 90v2M145.5 92v3M146.5 95v2M147.5 97v3M148.5 100v3M149.5 103v2M150.5 105v3M151.5 108v3M152.5 111v2M153.5 113v2M154.5 115v2M155.5 117v2M176.5 129v2M177.5 131v2M178.5 133v2M188.5 142v2M189.5 144v2M190.5 146v2M193.5 150v2M197.5 155v2M224.5 160v2M225.5 162v2M226.5 164v2M227.5 166v2M228.5 168v2M229.5 170v2M230.5 172v2M231.5 174v3M232.5 177v3M233.5 180v3M234.5 183v3M235.5 186v3M236.5 189v3M237.5 192v2M238.5 194v3M239.5 197v3M240.5 200v4M241.5 204v3M242.5 207v4M243.5 211v2M244.5 213v2M245.5 215v2M246.5 217v2M261.5 215v2M287.5 208v2M288.5 210v2M289.5 212v2M290.5 214v2M291.5 216v2M292.5 218v2M293.5 220v2M294.5 222v2M295.5 224v2M297.5 227v2M312.5 227v2M314.5 224v2M336.5 210v2M338.5 207v2M344.5 209v2M345.5 211v2M346.5 213v2M348.5 216v2M350.5 219v2M351.5 221v2M352.5 223v2M353.5 225v2M354.5 227v2M357.5 231v2M361.5 231v2M363.5 228v2M364.5 226v2M365.5 223v3M366.5 221v2M367.5 218v3M368.5 215v3M369.5 211v4M370.5 208v3M371.5 205v3M372.5 202v3M373.5 199v3M374.5 196v3M375.5 194v2M376.5 192v2M377.5 190v2M378.5 188v2M397.5 172v2M401.5 167v2M405.5 162v2M409.5 157v2M428.5 167v2M429.5 169v2M430.5 171v2M433.5 175v2M435.5 178v2M436.5 180v2M437.5 182v2M438.5 184v2M439.5 186v2M440.5 188v2M441.5 190v3M442.5 193v2M443.5 195v3M444.5 198v3M445.5 201v3M446.5 204v3M447.5 207v4M448.5 211v4M449.5 215v4M450.5 219v4M451.5 223v5M452.5 228v6M453.5 234v5M454.5 239v6M455.5 245v4M456.5 249v4M457.5 253v4M458.5 257v4M459.5 261v4M460.5 265v4M461.5 269v5M462.5 274v4M463.5 278v6M464.5 284v7M465.5 291v7M466.5 298v7M467.5 305v6M468.5 311v6M469.5 317v6M470.5 323v6M471.5 329v6M472.5 335v6M473.5 341v7M474.5 348v6M475.5 354v6M476.5 360v6M477.5 366v5M478.5 371v6M479.5 377v4M480.5 381v3M481.5 384v3M482.5 387v2M483.5 390v2M484.5 385v4M485.5 381v4M486.5 377v4M487.5 373v4M488.5 369v4M489.5 364v5M490.5 360v4M491.5 354v6M492.5 348v6M493.5 342v6M494.5 336v6M495.5 331v5M496.5 327v4M497.5 324v3M498.5 320v4M499.5 315v5M500.5 308v7M501.5 302v6M502.5 295v7M503.5 289v6M504.5 284v5M505.5 280v4M506.5 275v5M507.5 269v6M508.5 261v8M509.5 253v8M510.5 245v8M511.5 238v7M512.5 230v8M513.5 222v8M514.5 214v8M515.5 205v9M516.5 194v11M517.5 184v10M518.5 173v11M519.5 165v8M520.5 161v4M521.5 156v5M522.5 152v4M523.5 148v4M524.5 146v2M525.5 144v2M526.5 142v2M528.5 142v2M529.5 144v2M530.5 146v2M531.5 148v3M532.5 151v6M533.5 157v5M534.5 162v6M535.5 168v7M536.5 175v8M537.5 183v9M538.5 192v8M539.5 200v8M540.5 208v7M541.5 215v8M542.5 223v7M543.5 230v6M544.5 236v5M545.5 241v6M546.5 247v5M547.5 252v4M548.5 256v4M549.5 260v4M550.5 264v4M555.5 264v3M556.5 260v4M557.5 256v4M558.5 252v4M559.5 246v6M560.5 240v6M561.5 234v6M562.5 228v6M563.5 223v5M564.5 219v4M565.5 215v4M566.5 211v4M567.5 208v3M568.5 204v4M569.5 201v3M570.5 197v4M571.5 195v2M580.5 195v3M581.5 198v3M582.5 201v3M583.5 204v3M584.5 207v3M585.5 210v2M586.5 212v3M587.5 215v3M588.5 218v3M589.5 221v3M590.5 224v3M591.5 227v2M595.5 231v2M596.5 233v3M597.5 236v2M598.5 238v3M599.5 241v1M605.5 240v2M616.5 236v2M617.5 234v2M618.5 232v2M628.5 223v2M629.5 221v2M630.5 219v2M631.5 217v2M632.5 215v2M633.5 213v2M634.5 211v2M635.5 209v2M636.5 207v2M637.5 205v2M638.5 203v2M640.5 200v2M641.5 198v2M642.5 196v2M651.5 190v1M652.5 192v2M653.5 194v2M654.5 196v2M655.5 198v3M656.5 201v4M657.5 205v4M658.5 209v4M659.5 213v3M660.5 216v4M661.5 220v3M662.5 223v4M663.5 227v3M664.5 230v2M665.5 232v2M666.5 234v2M667.5 236v2M672.5 237v2M673.5 235v2M674.5 233v2M675.5 231v2M676.5 227v4M677.5 223v4M678.5 219v4M679.5 216v3M680.5 214v2M681.5 212v2M682.5 210v2M684.5 207v2M686.5 204v2M692.5 204v2M693.5 206v2M694.5 208v2M719.5 205v1M720.5 207v2M721.5 209v2M722.5 211v2M748.5 216v2M749.5 218v2M750.5 220v2M751.5 222v2M752.5 224v3M753.5 227v2M754.5 229v3M755.5 232v3M756.5 235v2M757.5 237v2M758.5 239v2M759.5 241v2M761.5 244v2M764.5 248v2M765.5 250v2M766.5 252v2M773.5 260v2M785.5 264v2M787.5 267v2M788.5 269v3M789.5 272v4M790.5 276v3M791.5 279v3M792.5 282v3M793.5 285v2M794.5 287v3M795.5 290v5M796.5 295v6M797.5 301v6M798.5 307v6M799.5 313v5M800.5 318v2M801.5 320v3M802.5 323v2M803.5 325v2M815.5 322v2M816.5 318v4M817.5 315v3M818.5 311v4M836.5 314v2M837.5 316v2M838.5 318v2M856.5 329v2M858.5 326v2M876.5 334v2M878.5 337v2M881.5 341v2M887.5 348v2M888.5 350v2M889.5 352v2M890.5 354v2M893.5 358v2M896.5 362v2M898.5 365v2M932.5 365v2M933.5 367v3M934.5 370v2M935.5 372v3M936.5 375v4M937.5 379v4M938.5 383v4M939.5 387v3M940.5 390v4M941.5 394v3M942.5 397v4M943.5 401v4M944.5 405v4M945.5 409v4M946.5 413v4M947.5 417v4M948.5 421v4M949.5 425v4M950.5 429v4M951.5 433v4M952.5 437v4M953.5 441v3M954.5 444v4M955.5 448v3M956.5 451v3M957.5 454v3M958.5 457v3M959.5 460v3M960.5 463v3M961.5 466v2M962.5 468v3M963.5 471v3M964.5 474v2M965.5 476v3M966.5 479v2M967.5 481v3M968.5 484v3M969.5 487v2M970.5 489v3M971.5 492v2M972.5 494v2M973.5 496v2M974.5 498v2M984.5 497v2M986.5 500v2M996.5 504v2M998.5 507v2M1003.5 508v1M1004.5 505v3M1005.5 503v2M1006.5 500v3M1013.5 499v2M1020.5 507v2M1022.5 510v2M1023.5 512v2M1024.5 514v3M1025.5 517v2M1026.5 519v3M1027.5 522v3M1028.5 525v2M1029.5 527v2M1030.5 529v2M1044.5 524v2M1046.5 521v2M1047.5 519v2M1048.5 517v2M1049.5 515v2M1050.5 513v2M1061.5 516v2M1063.5 519v2M1064.5 521v2M1065.5 523v2M1066.5 525v2M1067.5 527v2M1068.5 529v2M1070.5 532v2M1072.5 535v2M1073.5 537v2M1074.5 539v2M1084.5 538v2M1085.5 536v2M1086.5 534v2M1087.5 532v2M1088.5 530v2M1089.5 527v3M1090.5 525v2M1091.5 522v3M1092.5 519v3M1093.5 517v2M1094.5 514v3M1095.5 511v3M1096.5 509v2M1097.5 507v2M1098.5 505v2M1100.5 502v2M1102.5 499v2M1108.5 496v2M1109.5 498v2M1110.5 500v2M1116.5 506v2M1118.5 509v2M1119.5 511v2M1120.5 513v2M1121.5 515v3M1122.5 518v2M1123.5 520v2M1144.5 519v2M1145.5 517v2M1146.5 515v2M1147.5 513v2M1148.5 510v3M1149.5 507v3M1150.5 504v3M1151.5 501v3M1152.5 497v4M1153.5 494v3M1154.5 490v4M1155.5 486v4M1156.5 482v4M1157.5 478v4M1158.5 474v4M1159.5 469v5M1160.5 464v5M1161.5 460v4M1162.5 455v5M1163.5 451v4M1164.5 448v3M1165.5 445v3M1166.5 442v3M1167.5 440v2M1169.5 437v2M1176.5 438v2M1177.5 440v2M1178.5 442v2M1179.5 444v2M1180.5 446v3M1181.5 449v3M1182.5 452v3M1183.5 455v3M1184.5 458v2M1185.5 460v2M1186.5 462v2M1192.5 469v2M1194.5 472v2M1207.5 481v2M1208.5 483v2M1209.5 485v3M1210.5 488v2M1211.5 490v2M1212.5 492v2M1214.5 495v2M1216.5 498v2M1218.5 501v2M1225.5 507v2M1232.5 504v2M1234.5 501v2M1237.5 497v2M1240.5 496v2M1242.5 499v2M1245.5 503v2M1247.5 506v2M1248.5 508v3M1249.5 511v2M1250.5 513v3M1251.5 516v3M1252.5 519v2M1253.5 521v2M1254.5 523v2M1255.5 525v2M1256.5 527v2M1257.5 529v2M1258.5 531v2M1259.5 533v2M1261.5 536v2M1045 523.5h1M1125 523.5h1M1141 523.5h1M1191 468.5h1M49 126.5h1M173 126.5h1M813 325.5h1M844 325.5h2M859 325.5h5M812 326.5h1M846 326.5h1M864 326.5h1M819 309.5h3M398 171.5h1M182 138.5h1M263 213.5h3M334 213.5h1M698 213.5h1M700 213.5h2M723 213.5h2M735 213.5h2M743 213.5h3M187 141.5h1M527 141.5h1M315 223.5h3M278 206.5h1M282 206.5h3M339 206.5h2M685 206.5h1M717 206.5h3M87 115.5h1M103 115.5h1M990 503.5h6M1016 503.5h1M1112 503.5h2M1219 503.5h2M1233 503.5h1M1168 439.5h1M976 499.5h2M985 499.5h1M1007 499.5h1M1236 499.5h1M1017 504.5h1M1099 504.5h1M1114 504.5h1M1221 504.5h2M99 117.5h2M404 164.5h1M425 164.5h1M607 238.5h9M668 238.5h2M303 233.5h3M358 233.5h1M360 233.5h1M126 75.5h1M331 215.5h1M347 215.5h1M727 215.5h6M739 215.5h2M747 215.5h1M575 192.5h3M647 192.5h2M1260 535.5h1M201 159.5h2M211 159.5h3M218 159.5h6M408 159.5h1M420 159.5h1M841 322.5h1M482 389.5h2M819 310.5h1M822 310.5h3M266 212.5h2M335 212.5h1M697 212.5h1M702 212.5h1M207 162.5h1M423 162.5h1M199 158.5h2M419 158.5h1M262 214.5h1M332 214.5h2M699 214.5h1M725 214.5h2M733 214.5h2M737 214.5h2M741 214.5h2M746 214.5h2M1171 435.5h2M873 332.5h2M806 328.5h1M809 328.5h2M848 328.5h1M857 328.5h1M866 328.5h1M101 116.5h2M975 500.5h1M1217 500.5h1M1235 500.5h1M875 333.5h1M807 329.5h2M849 329.5h1M867 329.5h2M1018 505.5h1M1115 505.5h1M1223 505.5h1M1246 505.5h1M774 262.5h1M778 262.5h6M86 114.5h1M64 91.5h2M115 91.5h1M1193 471.5h1M1035 529.5h3M1040 529.5h1M271 209.5h3M337 209.5h1M683 209.5h1M707 209.5h3M712 209.5h2M1031 531.5h2M1069 531.5h1M247 219.5h2M254 219.5h1M323 219.5h2M132 71.5h2M979 497.5h3M1010 497.5h2M1104 497.5h2M1215 497.5h1M1127 525.5h7M1138 525.5h2M383 183.5h2M20 96.5h2M1033 530.5h2M1038 530.5h2M1055 514.5h5M987 502.5h3M1015 502.5h1M1111 502.5h1M1244 502.5h1M411 155.5h3M416 155.5h1M877 336.5h1M205 161.5h2M208 161.5h2M406 161.5h1M422 161.5h1M255 218.5h5M325 218.5h2M349 218.5h1M1202 478.5h2M249 220.5h2M252 220.5h2M322 220.5h1M827 312.5h3M833 312.5h2M599 242.5h3M604 242.5h1M602 243.5h2M760 243.5h1M1117 508.5h1M1229 508.5h1M276 207.5h2M285 207.5h2M341 207.5h2M715 207.5h2M300 231.5h2M308 231.5h2M619 231.5h1M1187 464.5h1M851 331.5h5M871 331.5h2M1083 540.5h1M1264 540.5h2M123 77.5h1M203 160.5h2M210 160.5h1M214 160.5h4M407 160.5h1M421 160.5h1M1213 494.5h1M1075 541.5h2M1082 541.5h1M1266 541.5h1M94 121.5h2M159 121.5h2M166 121.5h1M899 367.5h11M897 364.5h1M913 364.5h1M927 364.5h3M931 364.5h1M767 254.5h1M3 128.5h1M175 128.5h1M554 267.5h1M268 211.5h2M696 211.5h1M703 211.5h2M185 140.5h2M1124 522.5h1M1142 522.5h1M431 173.5h1M574 193.5h1M578 193.5h2M646 193.5h1M22 95.5h1M25 95.5h2M1199 477.5h3M825 311.5h2M830 311.5h3M999 509.5h5M1021 509.5h1M1226 509.5h1M1228 509.5h1M687 203.5h5M915 362.5h1M924 362.5h2M181 137.5h1M982 496.5h2M1106 496.5h1M1238 496.5h1M1175 437.5h1M850 330.5h1M869 330.5h2M91 122.5h3M167 122.5h2M399 170.5h1M997 506.5h1M1019 506.5h1M1224 506.5h1M1231 506.5h1M70 88.5h2M117 88.5h1M296 226.5h1M313 226.5h1M625 226.5h2M410 156.5h1M417 156.5h1M391 179.5h1M775 263.5h3M784 263.5h1M298 229.5h1M311 229.5h1M355 229.5h1M592 229.5h2M621 229.5h1M1053 513.5h2M1126 524.5h1M1134 524.5h4M1140 524.5h1M1204 479.5h2M786 266.5h1M1206 480.5h1M1198 476.5h1M639 202.5h1M129 73.5h2M279 205.5h3M1190 467.5h1M914 363.5h1M926 363.5h1M930 363.5h2M19 97.5h1M1077 542.5h2M1080 542.5h2M1267 542.5h1M97 119.5h1M156 119.5h2M163 119.5h1M15 104.5h1M318 222.5h2M885 346.5h1M299 230.5h1M310 230.5h1M356 230.5h1M362 230.5h1M594 230.5h1M620 230.5h1M769 256.5h1M1263 539.5h1M1051 512.5h2M191 148.5h1M387 181.5h2M891 356.5h1M1043 526.5h1M124 76.5h2M329 216.5h2M403 165.5h1M426 165.5h1M302 232.5h1M306 232.5h2M1196 475.5h2M183 139.5h2M46 129.5h2M918 359.5h1M920 359.5h2M389 180.5h2M772 259.5h1M842 323.5h1M572 194.5h2M579 194.5h1M644 194.5h2M551 268.5h3M1170 436.5h1M1173 436.5h2M879 339.5h1M880 340.5h1M131 72.5h1M137 72.5h1M894 360.5h1M917 360.5h1M922 360.5h1M127 74.5h2M382 184.5h1M251 221.5h1M320 221.5h2M649 191.5h3M392 178.5h1M67 89.5h3M72 89.5h1M895 361.5h1M916 361.5h1M923 361.5h1M83 110.5h1M96 120.5h1M158 120.5h1M161 120.5h2M164 120.5h2M643 195.5h1M396 174.5h1M432 174.5h1M1042 527.5h1M402 166.5h1M427 166.5h1M804 327.5h2M811 327.5h1M847 327.5h1M865 327.5h1M606 239.5h1M670 239.5h2M196 154.5h1M414 154.5h2M1079 543.5h1M883 344.5h1M884 345.5h1M768 255.5h1M1071 534.5h1M381 185.5h1M169 123.5h2M270 210.5h1M695 210.5h1M705 210.5h2M710 210.5h2M1060 515.5h1M171 124.5h1M1143 521.5h1M274 208.5h2M343 208.5h1M714 208.5h1M134 70.5h1M886 347.5h1M1014 501.5h1M1101 501.5h1M1243 501.5h1M23 94.5h2M770 257.5h1M1230 507.5h1M771 258.5h1M919 358.5h1M260 217.5h1M327 217.5h2M43 130.5h3M622 228.5h1M393 177.5h1M434 177.5h1M172 125.5h1M400 169.5h1M395 175.5h1M380 186.5h1M551 269.5h1M194 152.5h1M74 92.5h1M978 498.5h1M1007 498.5h3M1012 498.5h1M1103 498.5h1M1241 498.5h1M198 157.5h1M418 157.5h1M1107 495.5h1M1239 495.5h1M135 69.5h1M192 149.5h1M910 366.5h2M623 227.5h2M882 343.5h1M98 118.5h1M105 112.5h1M379 187.5h1M66 90.5h1M835 313.5h1M912 365.5h1M814 324.5h1M843 324.5h1M385 182.5h2M84 111.5h1M1041 528.5h1M840 321.5h1M1062 518.5h1M892 357.5h1M359 234.5h1M671 240.5h1M1195 474.5h1M1227 510.5h1M424 163.5h1M394 176.5h1M174 127.5h1M627 225.5h1M762 246.5h1M763 247.5h1M195 153.5h1M1188 465.5h1M1189 466.5h1M179 135.5h1M180 136.5h1M839 320.5h1M1262 538.5h1" stroke="#ffa500" stroke-width="1" fill="none"/>
<path d="M21.5 630v2M24.5 634v2M26.5 637v2M28.5 640v2M30.5 643v2M43.5 643v1M44.5 640v3M45.5 638v2M46.5 635v3M64.5 625v2M65.5 627v2M66.5 629v2M72.5 633v2M73.5 635v2M74.5 637v2M75.5 639v1M93.5 640v2M97.5 635v2M104.5 632v2M105.5 630v2M106.5 628v2M135.5 622v2M136.5 624v4M137.5 628v4M138.5 632v4M139.5 636v4M140.5 640v2M141.5 642v2M142.5 644v2M153.5 640v2M176.5 644v2M178.5 647v2M188.5 647v2M190.5 650v2M200.5 649v2M201.5 647v2M202.5 645v2M224.5 644v2M225.5 646v2M226.5 648v2M249.5 652v2M257.5 649v2M260.5 649v2M261.5 647v2M262.5 645v2M269.5 643v2M295.5 652v1M296.5 650v2M297.5 648v2M298.5 646v2M313.5 641v2M332.5 636v2M333.5 634v2M334.5 632v2M339.5 628v1M340.5 630v3M341.5 633v4M342.5 637v3M343.5 640v2M345.5 643v2M353.5 644v2M356.5 640v2M357.5 638v2M358.5 636v2M393.5 621v2M415.5 620v2M416.5 622v3M417.5 625v2M418.5 627v3M419.5 630v1M435.5 633v1M436.5 635v4M437.5 639v3M438.5 642v4M439.5 646v1M448.5 654v2M450.5 657v2M464.5 666v2M466.5 669v2M476.5 671v2M478.5 668v2M479.5 666v2M480.5 664v2M481.5 662v2M482.5 660v2M483.5 656v4M484.5 651v5M485.5 647v4M486.5 642v5M487.5 640v2M496.5 638v2M497.5 640v2M498.5 642v1M500.5 639v4M501.5 635v4M502.5 631v4M503.5 629v2M508.5 623v2M510.5 620v2M520.5 618v2M522.5 621v2M531.5 627v2M532.5 629v2M533.5 631v3M534.5 634v2M535.5 636v2M537.5 639v2M545.5 640v2M572.5 628v2M574.5 631v2M596.5 636v2M598.5 639v2M652.5 630v2M653.5 632v3M654.5 635v2M655.5 637v2M656.5 639v2M657.5 641v2M658.5 643v2M667.5 638v2M668.5 636v2M669.5 634v2M670.5 632v2M680.5 629v2M682.5 632v2M693.5 633v2M719.5 631v1M720.5 633v2M721.5 635v3M722.5 638v2M724.5 639v1M725.5 637v2M726.5 635v2M741.5 636v2M748.5 636v2M749.5 638v2M750.5 640v2M772.5 645v2M774.5 648v1M776.5 647v2M777.5 644v3M778.5 642v2M784.5 641v2M786.5 644v2M788.5 647v2M789.5 649v2M790.5 651v2M799.5 658v1M800.5 654v4M801.5 649v5M802.5 645v4M803.5 642v3M841.5 645v2M857.5 640v2M861.5 640v2M881.5 646v2M901.5 646v2M912.5 645v3M913.5 642v3M914.5 639v3M920.5 640v2M922.5 643v2M932.5 645v2M934.5 648v2M937.5 652v2M972.5 665v2M974.5 662v2M975.5 660v2M976.5 657v3M977.5 654v3M978.5 651v3M979.5 649v1M984.5 654v2M985.5 656v2M986.5 658v1M988.5 657v2M989.5 655v2M990.5 653v2M992.5 650v2M994.5 647v2M1009.5 645v2M1032.5 650v4M1033.5 647v3M1034.5 643v4M1035.5 641v1M1040.5 642v2M1042.5 639v2M1076.5 647v2M1077.5 644v3M1078.5 642v2M1079.5 640v2M1081.5 637v2M1088.5 634v2M1090.5 631v2M1104.5 629v2M1106.5 632v2M1108.5 635v2M1110.5 638v2M1143.5 634v2M1144.5 632v2M1145.5 630v2M1146.5 628v2M1147.5 626v2M1167.5 615v2M1168.5 617v2M1169.5 619v2M1170.5 621v2M1173.5 625v2M1192.5 631v2M1193.5 633v2M1194.5 635v2M1208.5 636v2M1209.5 638v3M1210.5 641v2M1211.5 643v1M1219.5 644v1M1220.5 642v2M1221.5 640v2M1222.5 638v2M1223.5 636v1M1240.5 637v2M1241.5 639v2M1242.5 641v2M1252.5 647v2M1254.5 644v2M33 646.5h2M37 646.5h2M143 646.5h2M177 646.5h1M182 646.5h1M186 646.5h2M217 646.5h2M220 646.5h1M267 646.5h1M285 646.5h1M347 646.5h3M352 646.5h1M787 646.5h1M836 646.5h2M908 646.5h1M995 646.5h3M1000 646.5h2M1065 646.5h1M1071 646.5h1M1247 646.5h1M1253 646.5h1M1262 646.5h4M42 644.5h2M146 644.5h1M166 644.5h1M173 644.5h2M203 644.5h2M213 644.5h2M222 644.5h1M263 644.5h2M283 644.5h1M299 644.5h3M304 644.5h1M311 644.5h1M499 644.5h1M661 644.5h2M755 644.5h11M770 644.5h2M834 644.5h1M842 644.5h1M866 644.5h4M874 644.5h6M903 644.5h3M930 644.5h2M1003 644.5h3M1008 644.5h1M1039 644.5h1M1062 644.5h2M1211 644.5h7M1244 644.5h2M1257 644.5h2M242 659.5h2M451 659.5h1M798 659.5h2M945 659.5h2M986 659.5h2M3 638.5h1M95 638.5h1M155 638.5h2M322 638.5h1M329 638.5h3M493 638.5h2M536 638.5h1M547 638.5h2M597 638.5h1M602 638.5h1M742 638.5h1M744 638.5h1M859 638.5h1M915 638.5h1M917 638.5h2M1043 638.5h3M1115 638.5h3M1120 638.5h2M1127 638.5h3M1132 638.5h2M1198 638.5h2M1226 638.5h1M1228 638.5h2M27 639.5h1M83 639.5h5M94 639.5h1M154 639.5h1M157 639.5h2M315 639.5h3M320 639.5h2M331 639.5h1M487 639.5h6M546 639.5h1M601 639.5h1M743 639.5h1M807 639.5h1M858 639.5h1M860 639.5h1M919 639.5h1M1046 639.5h4M1080 639.5h1M1113 639.5h2M1122 639.5h1M1125 639.5h2M1130 639.5h2M1227 639.5h1M35 647.5h2M143 647.5h1M181 647.5h1M219 647.5h1M255 647.5h1M286 647.5h1M350 647.5h2M439 647.5h2M773 647.5h1M838 647.5h1M840 647.5h1M909 647.5h1M933 647.5h1M998 647.5h2M1010 647.5h1M1066 647.5h1M1069 647.5h2M1072 647.5h1M1248 647.5h2M1266 647.5h2M395 619.5h10M409 619.5h1M414 619.5h1M511 619.5h3M1155 619.5h1M29 642.5h1M79 642.5h1M90 642.5h1M92 642.5h1M152 642.5h1M163 642.5h1M207 642.5h3M270 642.5h1M279 642.5h2M306 642.5h1M308 642.5h2M344 642.5h1M355 642.5h1M539 642.5h3M544 642.5h1M664 642.5h1M751 642.5h2M810 642.5h1M817 642.5h2M822 642.5h3M832 642.5h1M845 642.5h2M850 642.5h4M856 642.5h1M862 642.5h1M921 642.5h1M1035 642.5h3M1055 642.5h3M5 636.5h1M25 636.5h1M551 636.5h1M583 636.5h3M593 636.5h2M604 636.5h1M611 636.5h2M695 636.5h2M746 636.5h1M1082 636.5h1M1086 636.5h2M1135 636.5h3M1141 636.5h2M1201 636.5h1M1231 636.5h3M1239 636.5h1M91 643.5h1M147 643.5h5M164 643.5h2M175 643.5h1M205 643.5h2M210 643.5h3M223 643.5h1M281 643.5h2M305 643.5h1M310 643.5h1M312 643.5h1M354 643.5h1M498 643.5h2M542 643.5h2M663 643.5h1M753 643.5h2M766 643.5h4M785 643.5h1M811 643.5h6M833 643.5h1M843 643.5h2M854 643.5h2M863 643.5h3M870 643.5h4M1006 643.5h2M1038 643.5h1M1058 643.5h4M1243 643.5h1M1255 643.5h2M192 651.5h1M198 651.5h2M228 651.5h2M250 651.5h1M258 651.5h2M290 651.5h1M445 651.5h1M890 651.5h1M892 651.5h2M936 651.5h1M981 651.5h1M1026 651.5h1M75 640.5h2M82 640.5h1M88 640.5h1M159 640.5h2M274 640.5h3M314 640.5h1M318 640.5h2M600 640.5h1M666 640.5h1M723 640.5h2M779 640.5h5M806 640.5h1M808 640.5h1M827 640.5h3M1050 640.5h3M1111 640.5h2M1123 640.5h2M122 622.5h4M130 622.5h4M509 622.5h1M1151 622.5h1M1163 613.5h2M10 632.5h1M22 632.5h1M50 632.5h2M71 632.5h1M362 632.5h1M422 632.5h6M556 632.5h2M578 632.5h2M623 632.5h3M689 632.5h2M692 632.5h1M702 632.5h1M710 632.5h3M718 632.5h2M731 632.5h6M1093 632.5h1M1097 632.5h1M1179 632.5h3M1184 632.5h1M8 633.5h2M23 633.5h1M47 633.5h3M99 633.5h2M361 633.5h1M428 633.5h2M555 633.5h1M575 633.5h3M580 633.5h1M607 633.5h1M622 633.5h1M686 633.5h3M700 633.5h2M713 633.5h2M716 633.5h2M729 633.5h2M737 633.5h2M1089 633.5h1M1094 633.5h1M1096 633.5h1M1182 633.5h2M231 653.5h1M294 653.5h2M447 653.5h1M791 653.5h1M983 653.5h1M1028 653.5h2M1160 615.5h2M452 660.5h2M799 660.5h1M947 660.5h6M987 660.5h1M77 641.5h2M80 641.5h2M89 641.5h1M161 641.5h2M271 641.5h3M277 641.5h2M307 641.5h1M538 641.5h1M599 641.5h1M665 641.5h1M723 641.5h1M779 641.5h1M804 641.5h2M809 641.5h1M819 641.5h3M825 641.5h2M830 641.5h2M847 641.5h3M1041 641.5h1M1053 641.5h2M193 650.5h1M197 650.5h1M227 650.5h1M251 650.5h1M289 650.5h1M444 650.5h1M775 650.5h1M888 650.5h2M894 650.5h1M935 650.5h1M979 650.5h2M1024 650.5h2M1075 650.5h1M7 634.5h1M47 634.5h1M98 634.5h1M101 634.5h3M360 634.5h1M430 634.5h1M433 634.5h3M554 634.5h1M581 634.5h1M606 634.5h1M608 634.5h2M615 634.5h3M620 634.5h2M683 634.5h3M699 634.5h1M715 634.5h1M727 634.5h2M739 634.5h1M1095 634.5h1M1107 634.5h1M1203 634.5h5M235 657.5h3M245 657.5h1M796 657.5h1M942 657.5h1M11 631.5h3M52 631.5h1M67 631.5h5M335 631.5h1M363 631.5h1M419 631.5h3M558 631.5h1M626 631.5h3M671 631.5h1M681 631.5h1M691 631.5h1M703 631.5h7M1092 631.5h1M1098 631.5h1M1105 631.5h1M1178 631.5h1M1185 631.5h1M62 624.5h2M111 624.5h3M117 624.5h2M391 624.5h1M526 624.5h2M1149 624.5h1M1172 624.5h1M473 672.5h2M58 626.5h1M108 626.5h2M371 626.5h3M385 626.5h2M388 626.5h2M506 626.5h1M530 626.5h1M642 626.5h3M411 617.5h1M518 617.5h2M1158 617.5h1M56 627.5h2M107 627.5h1M369 627.5h2M387 627.5h1M505 627.5h1M563 627.5h3M570 627.5h2M635 627.5h7M645 627.5h2M1174 627.5h1M19 628.5h1M55 628.5h1M367 628.5h2M504 628.5h1M562 628.5h1M566 628.5h4M633 628.5h2M647 628.5h5M675 628.5h5M1103 628.5h1M1175 628.5h1M59 625.5h3M110 625.5h1M114 625.5h3M374 625.5h11M390 625.5h1M507 625.5h1M528 625.5h2M1148 625.5h1M14 630.5h3M53 630.5h1M335 630.5h2M364 630.5h2M559 630.5h1M573 630.5h1M629 630.5h2M672 630.5h2M1091 630.5h1M1099 630.5h2M1177 630.5h1M1186 630.5h1M1191 630.5h1M1162 614.5h1M1165 614.5h2M179 649.5h1M189 649.5h1M194 649.5h1M196 649.5h1M252 649.5h2M288 649.5h1M443 649.5h1M774 649.5h2M883 649.5h5M895 649.5h5M911 649.5h1M993 649.5h1M1014 649.5h10M1074 649.5h2M1251 649.5h1M191 652.5h1M199 652.5h1M230 652.5h1M259 652.5h1M291 652.5h3M446 652.5h1M891 652.5h1M982 652.5h1M991 652.5h1M1027 652.5h1M454 661.5h1M953 661.5h2M234 656.5h1M246 656.5h1M449 656.5h1M795 656.5h1M940 656.5h2M180 648.5h1M195 648.5h1M254 648.5h1M256 648.5h1M287 648.5h1M441 648.5h2M839 648.5h1M882 648.5h1M900 648.5h1M910 648.5h2M1011 648.5h3M1067 648.5h2M1073 648.5h1M1250 648.5h1M31 645.5h2M39 645.5h3M145 645.5h1M167 645.5h6M183 645.5h3M215 645.5h2M221 645.5h1M265 645.5h2M268 645.5h1M284 645.5h1M299 645.5h1M302 645.5h2M346 645.5h1M659 645.5h2M835 645.5h1M880 645.5h1M902 645.5h1M906 645.5h2M923 645.5h7M1002 645.5h1M1064 645.5h1M1218 645.5h2M1246 645.5h1M1259 645.5h3M6 635.5h1M103 635.5h1M359 635.5h1M431 635.5h2M552 635.5h2M582 635.5h1M595 635.5h1M605 635.5h1M610 635.5h1M613 635.5h2M618 635.5h2M694 635.5h1M697 635.5h2M740 635.5h1M747 635.5h1M1083 635.5h3M1202 635.5h1M1207 635.5h1M1234 635.5h6M455 662.5h5M955 662.5h2M4 637.5h1M96 637.5h1M323 637.5h6M495 637.5h1M549 637.5h2M586 637.5h7M603 637.5h1M745 637.5h1M915 637.5h2M1109 637.5h1M1118 637.5h2M1134 637.5h1M1138 637.5h3M1195 637.5h3M1200 637.5h1M1223 637.5h3M1230 637.5h1M17 629.5h2M20 629.5h1M54 629.5h1M337 629.5h3M366 629.5h1M560 629.5h2M631 629.5h2M651 629.5h1M674 629.5h1M1101 629.5h2M1176 629.5h1M1187 629.5h5M134 621.5h2M407 621.5h1M1152 621.5h2M460 663.5h2M957 663.5h2M233 655.5h1M247 655.5h1M794 655.5h1M939 655.5h1M1031 655.5h1M119 623.5h3M126 623.5h4M392 623.5h1M523 623.5h3M1150 623.5h1M1171 623.5h1M410 618.5h1M412 618.5h2M514 618.5h4M1156 618.5h2M467 671.5h6M238 658.5h4M244 658.5h1M797 658.5h1M943 658.5h2M394 620.5h1M405 620.5h2M408 620.5h1M521 620.5h1M1154 620.5h1M465 668.5h1M232 654.5h1M248 654.5h1M792 654.5h2M938 654.5h1M1030 654.5h2M463 665.5h1M961 665.5h2M966 667.5h6M475 673.5h1M1159 616.5h1M477 670.5h1M462 664.5h1M959 664.5h2M973 664.5h1M963 666.5h3" stroke="#1e90ff" stroke-width="1" fill="none"/>
<path d="M3.5 723V728M7.5 723V727M11.5 723V725M15.5 723V724M19.5 723V722M23.5 723V722M31.5 723V726M35.5 723V728M39.5 723V730M43.5 723V731M47.5 723V729M51.5 723V728M55.5 723V725M59.5 723V722M63.5 723V720M67.5 723V719M71.5 723V719M75.5 723V721M83.5 723V724M87.5 723V725M91.5 723V727M95.5 723V727M99.5 723V726M103.5 723V725M111.5 723V720M115.5 723V718M119.5 723V716M123.5 723V714M127.5 723V713M131.5 723V712M135.5 723V711M139.5 723V714M143.5 723V719M147.5 723V722M151.5 723V724M155.5 723V725M159.5 723V726M163.5 723V728M167.5 723V730M171.5 723V731M175.5 723V732M179.5 723V735M183.5 723V736M187.5 723V737M191.5 723V739M195.5 723V740M199.5 723V742M203.5 723V742M207.5 723V741M211.5 723V740M215.5 723V740M219.5 723V741M223.5 723V740M227.5 723V742M231.5 723V744M235.5 723V747M239.5 723V750M243.5 723V753M247.5 723V753M251.5 723V753M255.5 723V751M259.5 723V751M263.5 723V750M267.5 723V749M271.5 723V747M275.5 723V744M279.5 723V743M283.5 723V742M287.5 723V743M291.5 723V744M295.5 723V746M299.5 723V745M303.5 723V744M307.5 723V742M311.5 723V742M315.5 723V740M319.5 723V738M323.5 723V736M327.5 723V735M331.5 723V734M335.5 723V731M339.5 723V728M343.5 723V729M347.5 723V732M351.5 723V734M355.5 723V734M359.5 723V733M363.5 723V730M367.5 723V727M371.5 723V724M375.5 723V721M379.5 723V718M383.5 723V717M387.5 723V716M391.5 723V714M395.5 723V712M399.5 723V710M403.5 723V708M407.5 723V708M411.5 723V706M415.5 723V706M419.5 723V708M423.5 723V709M427.5 723V711M431.5 723V713M435.5 723V714M439.5 723V719M447.5 723V728M451.5 723V734M455.5 723V741M459.5 723V746M463.5 723V752M467.5 723V762M471.5 723V770M475.5 723V779M479.5 723V784M483.5 723V785M487.5 723V777M491.5 723V771M495.5 723V765M499.5 723V763M503.5 723V753M507.5 723V742M511.5 723V727M515.5 723V714M519.5 723V703M523.5 723V698M527.5 723V695M531.5 723V694M535.5 723V700M539.5 723V709M543.5 723V717M547.5 723V721M551.5 723V722M555.5 723V721M559.5 723V718M563.5 723V713M567.5 723V711M571.5 723V708M575.5 723V709M579.5 723V710M583.5 723V713M587.5 723V716M591.5 723V719M595.5 723V720M603.5 723V725M611.5 723V724M615.5 723V724M619.5 723V724M623.5 723V722M627.5 723V721M631.5 723V719M635.5 723V716M639.5 723V714M643.5 723V712M647.5 723V712M651.5 723V711M655.5 723V715M659.5 723V721M663.5 723V724M667.5 723V726M671.5 723V724M675.5 723V721M679.5 723V719M683.5 723V719M687.5 723V719M691.5 723V719M695.5 723V720M699.5 723V720M703.5 723V719M707.5 723V719M711.5 723V718M715.5 723V719M719.5 723V719M723.5 723V722M727.5 723V722M731.5 723V721M735.5 723V720M739.5 723V721M751.5 723V726M755.5 723V729M759.5 723V731M763.5 723V733M767.5 723V734M771.5 723V736M775.5 723V739M779.5 723V738M783.5 723V738M787.5 723V739M791.5 723V745M795.5 723V750M799.5 723V757M803.5 723V756M807.5 723V753M811.5 723V753M815.5 723V753M819.5 723V751M823.5 723V750M827.5 723V748M831.5 723V747M835.5 723V747M839.5 723V749M843.5 723V748M847.5 723V747M851.5 723V746M855.5 723V745M859.5 723V743M863.5 723V743M867.5 723V743M871.5 723V743M875.5 723V743M879.5 723V742M883.5 723V744M887.5 723V744M891.5 723V746M895.5 723V747M899.5 723V747M903.5 723V746M907.5 723V745M911.5 723V745M915.5 723V742M919.5 723V740M923.5 723V741M927.5 723V741M931.5 723V741M935.5 723V743M939.5 723V746M943.5 723V751M947.5 723V755M951.5 723V758M955.5 723V761M959.5 723V764M963.5 723V768M967.5 723V771M971.5 723V773M975.5 723V773M979.5 723V770M983.5 723V769M987.5 723V772M991.5 723V772M995.5 723V769M999.5 723V767M1003.5 723V764M1007.5 723V760M1011.5 723V760M1015.5 723V760M1019.5 723V759M1023.5 723V758M1027.5 723V759M1031.5 723V760M1035.5 723V757M1039.5 723V756M1043.5 723V752M1047.5 723V749M1051.5 723V747M1055.5 723V746M1059.5 723V745M1063.5 723V745M1067.5 723V746M1071.5 723V746M1075.5 723V748M1079.5 723V746M1083.5 723V743M1087.5 723V740M1091.5 723V736M1095.5 723V733M1099.5 723V730M1103.5 723V726M1107.5 723V725M1111.5 723V727M1115.5 723V728M1119.5 723V728M1123.5 723V729M1127.5 723V729M1131.5 723V730M1135.5 723V729M1139.5 723V729M1143.5 723V728M1147.5 723V725M1151.5 723V720M1155.5 723V715M1159.5 723V710M1163.5 723V705M1167.5 723V701M1171.5 723V701M1175.5 723V702M1179.5 723V704M1183.5 723V706M1187.5 723V707M1191.5 723V708M1195.5 723V711M1199.5 723V714M1203.5 723V716M1207.5 723V716M1211.5 723V721M1215.5 723V724M1219.5 723V727M1223.5 723V727M1227.5 723V728M1231.5 723V727M1235.5 723V727M1239.5 723V726M1243.5 723V729M1247.5 723V731M1251.5 723V735M1255.5 723V736M1259.5 723V737M1263.5 723V739M1267.5 723V740" stroke="#c0c0c0" stroke-width="1" fill="none"/>
<path d="M473.5 744v2M476.5 749v2M480.5 756v2M514.5 756v2M517.5 750v2M520.5 743v2M523.5 737v2M525.5 732v2M528.5 726v2M532.5 719v2M309 743.5h3M315 743.5h3M472 743.5h1M881 743.5h3M887 743.5h3M893 743.5h3M929 743.5h3M942 743.5h2M1091 743.5h3M243 744.5h3M298 744.5h2M303 744.5h3M803 744.5h2M875 744.5h3M899 744.5h3M905 744.5h3M918 744.5h2M923 744.5h3M947 744.5h2M1086 744.5h2M250 746.5h2M286 746.5h2M809 746.5h1M858 746.5h2M863 746.5h3M1079 746.5h3M190 732.5h2M357 732.5h3M465 732.5h1M779 732.5h3M1115 732.5h2M1265 732.5h2M5 721.5h1M123 721.5h3M165 721.5h2M393 721.5h1M455 721.5h1M531 721.5h1M618 721.5h2M635 721.5h3M690 721.5h2M695 721.5h3M750 721.5h2M1163 721.5h1M1229 721.5h2M477 751.5h1M821 751.5h2M833 751.5h2M959 751.5h1M1061 751.5h2M82 722.5h2M87 722.5h3M93 722.5h3M167 722.5h1M623 722.5h3M629 722.5h3M755 722.5h3M1231 722.5h1M21 726.5h3M45 726.5h3M51 726.5h3M63 726.5h3M69 726.5h1M382 726.5h2M460 726.5h1M767 726.5h2M1243 726.5h1M255 748.5h3M281 748.5h1M846 748.5h2M851 748.5h3M955 748.5h1M1073 748.5h1M411 712.5h2M443 712.5h1M563 712.5h2M1213 712.5h1M189 731.5h1M363 731.5h3M464 731.5h1M526 731.5h1M1117 731.5h1M203 737.5h1M468 737.5h1M791 737.5h2M1105 737.5h1M9 723.5h2M81 723.5h1M99 723.5h3M117 723.5h3M389 723.5h1M1159 723.5h1M1235 723.5h3M407 713.5h1M536 713.5h1M565 713.5h1M582 713.5h2M587 713.5h3M593 713.5h3M262 750.5h2M267 750.5h3M273 750.5h3M835 750.5h1M839 750.5h3M1063 750.5h1M195 734.5h3M345 734.5h1M785 734.5h2M1111 734.5h1M490 768.5h1M507 768.5h1M985 768.5h1M1007 768.5h3M423 708.5h3M429 708.5h3M540 708.5h2M1181 708.5h2M1205 708.5h2M3 720.5h2M394 720.5h1M454 720.5h1M617 720.5h1M641 720.5h1M689 720.5h1M701 720.5h1M738 720.5h2M743 720.5h3M749 720.5h1M1164 720.5h2M261 749.5h1M279 749.5h2M518 749.5h1M815 749.5h3M845 749.5h1M1067 749.5h3M183 729.5h2M375 729.5h2M773 729.5h2M1122 729.5h2M1254 729.5h2M545 706.5h1M551 706.5h2M1199 706.5h3M249 745.5h1M291 745.5h3M297 745.5h1M519 745.5h1M805 745.5h1M869 745.5h3M911 745.5h3M917 745.5h1M949 745.5h1M1085 745.5h1M201 736.5h2M339 736.5h2M418 709.5h2M435 709.5h3M539 709.5h1M557 709.5h2M1207 709.5h1M405 714.5h2M447 714.5h1M535 714.5h1M569 714.5h1M581 714.5h1M599 714.5h3M1171 714.5h1M1217 714.5h1M129 719.5h2M161 719.5h1M395 719.5h1M453 719.5h1M611 719.5h3M642 719.5h2M678 719.5h2M683 719.5h3M702 719.5h2M707 719.5h3M713 719.5h3M719 719.5h3M725 719.5h3M731 719.5h3M737 719.5h1M1225 719.5h1M485 763.5h1M510 763.5h1M141 715.5h3M147 715.5h3M448 715.5h2M534 715.5h1M570 715.5h2M575 715.5h3M654 715.5h2M659 715.5h3M665 715.5h1M1170 715.5h1M1218 715.5h1M823 752.5h1M827 752.5h3M960 752.5h2M15 725.5h3M27 725.5h3M33 725.5h3M39 725.5h3M70 725.5h2M173 725.5h1M459 725.5h1M529 725.5h1M763 725.5h1M1157 725.5h1M1241 725.5h2M488 767.5h2M508 767.5h1M983 767.5h2M179 728.5h1M377 728.5h1M1127 728.5h3M1133 728.5h3M1139 728.5h3M1145 728.5h3M1253 728.5h1M966 756.5h1M1049 756.5h1M285 747.5h1M810 747.5h2M857 747.5h1M953 747.5h2M1074 747.5h2M977 764.5h2M1019 764.5h3M131 718.5h1M159 718.5h2M647 718.5h2M677 718.5h1M1223 718.5h2M341 735.5h1M787 735.5h1M1109 735.5h2M1037 759.5h1M219 740.5h3M225 740.5h3M327 740.5h3M797 740.5h2M1099 740.5h1M413 711.5h1M441 711.5h2M1175 711.5h2M1211 711.5h2M57 727.5h3M177 727.5h2M381 727.5h1M461 727.5h1M769 727.5h1M1151 727.5h3M1247 727.5h3M137 716.5h1M153 716.5h1M401 716.5h1M605 716.5h2M653 716.5h1M666 716.5h2M1169 716.5h1M1219 716.5h1M231 741.5h3M237 741.5h1M322 741.5h2M799 741.5h1M1097 741.5h2M11 724.5h1M75 724.5h3M105 724.5h3M111 724.5h3M171 724.5h2M387 724.5h2M761 724.5h2M1158 724.5h1M346 733.5h2M351 733.5h3M466 733.5h1M1267 733.5h1M494 770.5h1M990 770.5h2M995 770.5h3M1001 770.5h3M484 762.5h1M511 762.5h1M1025 762.5h2M207 738.5h3M213 738.5h1M334 738.5h2M469 738.5h1M793 738.5h1M1103 738.5h2M238 742.5h2M321 742.5h1M935 742.5h3M941 742.5h1M1013 766.5h2M185 730.5h1M369 730.5h3M775 730.5h1M1121 730.5h1M1259 730.5h3M967 757.5h1M1043 757.5h3M483 761.5h1M512 761.5h1M972 761.5h2M1027 761.5h1M479 755.5h1M515 755.5h1M965 755.5h1M1050 755.5h2M971 760.5h1M1031 760.5h3M1193 704.5h1M546 705.5h2M1187 705.5h3M1194 705.5h2M1038 758.5h2M135 717.5h2M154 717.5h2M399 717.5h2M607 717.5h1M649 717.5h1M671 717.5h3M495 771.5h2M502 771.5h1M417 710.5h1M559 710.5h1M1177 710.5h1M214 739.5h2M333 739.5h1M470 739.5h1M522 739.5h1M500 772.5h2M506 769.5h1M989 769.5h1M1055 753.5h3M979 765.5h1M1015 765.5h1M553 707.5h1M1183 707.5h1" stroke="#ff0000" stroke-width="1" fill="none"/>
</g>
</svg>
<i style="left:2px;top:26px;width:1px;height:764px;background:#000"></i>
<i style="left:2px;top:583px;width:1px;height:1px;background:#fff"></i><i style="left:2px;top:686px;width:1px;height:2px;background:#fff"></i>
<i class="pt" style="top:51px"></i><span class="pl" style="top:44.9px">1.00265</span><i class="pt" style="top:84px"></i><span class="pl" style="top:78.0px">0.99620</span><i class="pt" style="top:117px"></i><span class="pl" style="top:111.1px">0.98960</span><i class="pt" style="top:150px"></i><span class="pl" style="top:144.1px">0.98300</span><i class="pt" style="top:183px"></i><span class="pl" style="top:177.2px">0.97640</span><i class="pt" style="top:216px"></i><span class="pl" style="top:210.2px">0.96995</span><i class="pt" style="top:249px"></i><span class="pl" style="top:243.2px">0.96335</span><i class="pt" style="top:282px"></i><span class="pl" style="top:276.3px">0.95675</span><i class="pt" style="top:315px"></i><span class="pl" style="top:309.3px">0.95015</span><i class="pt" style="top:348px"></i><span class="pl" style="top:342.4px">0.94355</span><i class="pt" style="top:381px"></i><span class="pl" style="top:375.4px">0.93710</span><i class="pt" style="top:414px"></i><span class="pl" style="top:408.5px">0.93050</span><i class="pt" style="top:447px"></i><span class="pl" style="top:441.5px">0.92390</span><i class="pt" style="top:480px"></i><span class="pl" style="top:474.6px">0.91730</span><i class="pt" style="top:513px"></i><span class="pl" style="top:507.6px">0.91085</span><i class="pt" style="top:546px"></i><span class="pl" style="top:540.7px">0.90425</span><i class="pt" style="top:579px"></i><span class="pl" style="top:573.7px">0.89765</span>
<i class="hl" style="top:277px;background:#ff0000"></i><i class="sq" style="top:275px;left:2px;border-color:#ff0000"></i><i class="sq" style="top:275px;left:1589px;border-color:#ff0000"></i><span class="pb" style="top:272px;background:#ff0000">0.95756</span><i class="hl" style="top:345px;background:#ff0000"></i><i class="sq" style="top:343px;left:2px;border-color:#ff0000"></i><i class="sq" style="top:343px;left:1589px;border-color:#ff0000"></i><span class="pb" style="top:340px;background:#ff0000">0.94406</span><i class="hl" style="top:415px;background:#ff0000"></i><i class="sq" style="top:413px;left:2px;border-color:#ff0000"></i><i class="sq" style="top:413px;left:1589px;border-color:#ff0000"></i><span class="pb" style="top:410px;background:#ff0000">0.93016</span><i class="hl" style="top:481px;background:#00ff00"></i><i class="sq" style="top:479px;left:2px;border-color:#00ff00"></i><i class="sq" style="top:479px;left:1589px;border-color:#00ff00"></i><span class="pb" style="top:476px;background:#00ff00">0.91706</span><i class="hl" style="top:566px;background:#0000ff"></i><i class="sq" style="top:564px;left:2px;border-color:#0000ff"></i><i class="sq" style="top:564px;left:1589px;border-color:#0000ff"></i><span class="pb" style="top:561px;background:#0000ff">0.90018</span>
<span class="pb" style="top:541px;background:#000">0.90425</span>
<svg style="position:absolute;left:5px;top:32px" width="10" height="6"><path d="M1 1h7.500l-3.750 4z" fill="#000"/></svg>
<svg style="position:absolute;left:0;top:0" width="400" height="60" font-family="Liberation Sans, sans-serif" font-size="9.2"><text x="18.300" y="37.600" textLength="64.500">USDCHF,Daily</text><text x="88.600" y="37.600">0.90490</text><text x="124.700" y="37.600">0.90502</text><text x="160.800" y="37.600">0.90421</text><text x="196.900" y="37.600">0.90425</text></svg>
<span style="left:7.300px;top:588px;font-size:9.3px">RSI(14) 37.1368</span>
<span style="left:7.300px;top:692px;font-size:9.35px">MACD(12,26,9) -0.002899 -0.001766</span>
<i style="left:3px;top:615px;width:1592px;height:0;border-top:1px dashed #c0c0c0"></i>
<i style="left:3px;top:655px;width:1592px;height:0;border-top:1px dashed #c0c0c0"></i>
<span class="pl" style="top:584.900px;left:1599px">100</span><span class="pl" style="top:609px;left:1599px">70</span><span class="pl" style="top:649.300px;left:1599px">30</span><span class="pl" style="top:672.900px;left:1599px">0</span>
<span class="pl" style="top:688.900px;left:1599px">0.005818</span><span class="pl" style="top:717.300px;left:1599px">0.00</span><span class="pl" style="top:776.900px;left:1599px">-0.011514</span>
<i class="pt" style="top:585px;width:1px"></i><i class="pt" style="top:685px;width:1px"></i><i class="pt" style="top:689px;width:1px"></i><i class="pt" style="top:723px"></i><i class="pt" style="top:789px;width:1px"></i>
<i class="tk" style="left:3px"></i><span class="dt" style="left:2px">23 Oct 2019</span><i class="tk" style="left:67px"></i><span class="dt" style="left:66px">11 Nov 2019</span><i class="tk" style="left:131px"></i><span class="dt" style="left:130px">29 Nov 2019</span><i class="tk" style="left:195px"></i><span class="dt" style="left:194px">18 Dec 2019</span><i class="tk" style="left:259px"></i><span class="dt" style="left:258px">6 Jan 2020</span><i class="tk" style="left:323px"></i><span class="dt" style="left:322px">24 Jan 2020</span><i class="tk" style="left:387px"></i><span class="dt" style="left:386px">12 Feb 2020</span><i class="tk" style="left:451px"></i><span class="dt" style="left:450px">2 Mar 2020</span><i class="tk" style="left:515px"></i><span class="dt" style="left:514px">20 Mar 2020</span><i class="tk" style="left:579px"></i><span class="dt" style="left:578px">8 Apr 2020</span><i class="tk" style="left:643px"></i><span class="dt" style="left:642px">27 Apr 2020</span><i class="tk" style="left:707px"></i><span class="dt" style="left:706px">15 May 2020</span><i class="tk" style="left:771px"></i><span class="dt" style="left:770px">3 Jun 2020</span><i class="tk" style="left:835px"></i><span class="dt" style="left:834px">22 Jun 2020</span><i class="tk" style="left:899px"></i><span class="dt" style="left:898px">10 Jul 2020</span><i class="tk" style="left:963px"></i><span class="dt" style="left:962px">29 Jul 2020</span><i class="tk" style="left:1027px"></i><span class="dt" style="left:1026px">17 Aug 2020</span><i class="tk" style="left:1091px"></i><span class="dt" style="left:1090px">4 Sep 2020</span><i class="tk" style="left:1155px"></i><span class="dt" style="left:1154px">23 Sep 2020</span><i class="tk" style="left:1219px"></i><span class="dt" style="left:1218px">12 Oct 2020</span>
<!-- tab bar -->
<i style="left:0;top:810px;width:1638px;height:2px;background:#ececec"></i>
<i style="left:0;top:812px;width:1638px;height:20px;background:#f0f0f0;border-top:1px solid #000"></i>
<i style="left:108px;top:812px;width:100px;height:19px;background:#fff;border:1px solid #000;border-top:none"></i>
<i class="sp" style="left:311.8px"></i><i class="sp" style="left:415.5px"></i><i class="sp" style="left:519.5px"></i><i class="sp" style="left:623.8px"></i><i class="sp" style="left:715.5px"></i><i class="sp" style="left:807.8px"></i><i class="sp" style="left:879.5px"></i><i class="sp" style="left:959.5px"></i><i class="sp" style="left:1039.5px"></i><i class="sp" style="left:1119.5px"></i><i class="sp" style="left:1196.0px"></i><i class="sp" style="left:1267.5px"></i><i class="sp" style="left:1352.2px"></i><i class="sp" style="left:1431.5px"></i><i class="sp" style="left:1531.5px"></i><i class="sp" style="left:1603.5px"></i>
<svg style="position:absolute;left:0;top:0" width="1638" height="832" font-family="Liberation Sans, sans-serif" font-size="11.8"><text x="16.1" y="826.9" textLength="80.3" fill="#666">EURUSD,Daily</text><text x="117.7" y="826.9" textLength="80.1" fill="#000">USDCHF,Daily</text><text x="218.4" y="826.9" textLength="82.9" fill="#666">AUDUSD,Daily</text><text x="322.7" y="826.9" textLength="81.9" fill="#666">USDCAD,Daily</text><text x="425.4" y="826.9" textLength="84.2" fill="#666">USDCNH,Daily</text><text x="531.7" y="826.9" textLength="81.2" fill="#666">EURUSD,Daily</text><text x="635.4" y="826.9" textLength="68.5" fill="#666">GBPUSD,H4</text><text x="726.7" y="826.9" textLength="69.6" fill="#666">XAUUSD,H1</text><text x="818.7" y="826.9" textLength="50.2" fill="#666">HK50,H1</text><text x="890.4" y="826.9" textLength="57.9" fill="#666">UK100,H1</text><text x="970.4" y="826.9" textLength="57.9" fill="#666">UK100,H1</text><text x="1050.4" y="826.9" textLength="57.5" fill="#666">GER30,H1</text><text x="1129.9" y="826.9" textLength="55.1" fill="#666">FRA40,H1</text><text x="1205.7" y="826.9" textLength="51.2" fill="#666">USOil,H4</text><text x="1277.4" y="826.9" textLength="63.5" fill="#666">USDJPY,H1</text><text x="1362.1" y="826.9" textLength="59.5" fill="#666">DJ30,Daily</text><text x="1441.4" y="826.9" textLength="79.5" fill="#666">CHINA300,H1</text><text x="1541.4" y="826.9" textLength="51.2" fill="#666">USOil,H1</text></svg>
<svg style="position:absolute;left:1608px;top:815px" width="30" height="14"><path d="M6.500 3v6l-3.500-3z" fill="#9a9a9a"/><path d="M22 3v6l3.500-3z" fill="#000"/></svg>
</body></html>
